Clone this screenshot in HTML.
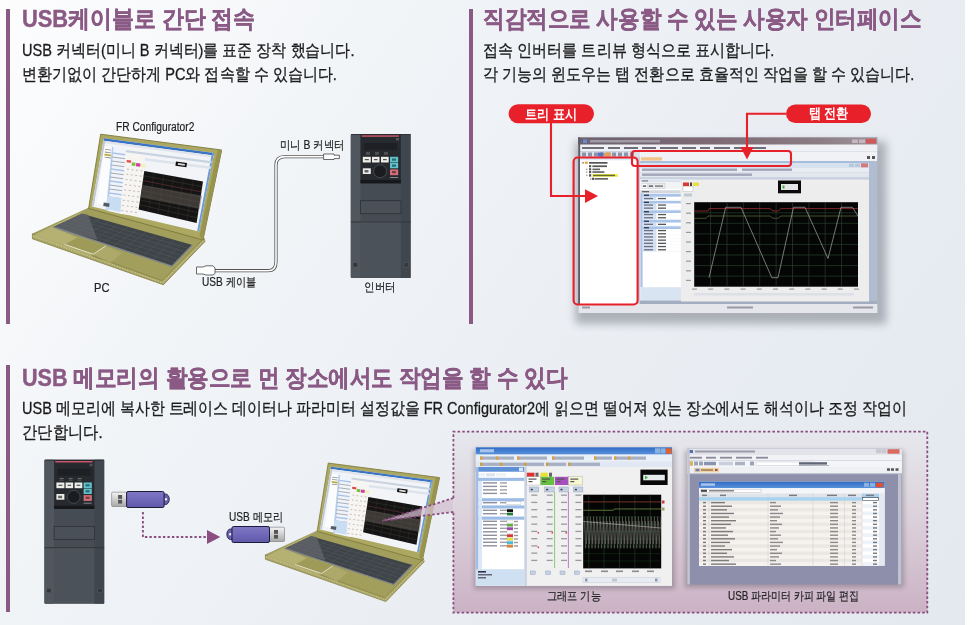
<!DOCTYPE html>
<html><head><meta charset="utf-8">
<style>
*{margin:0;padding:0;box-sizing:border-box}
html,body{width:976px;height:625px;overflow:hidden;background:#fff}
body{position:relative;font-family:"Liberation Sans",sans-serif;color:#222}
#bg{position:absolute;left:0;top:0;width:965px;height:625px;background:linear-gradient(125deg,#fdfdfe 0%,#f1f4f7 30%,#e9edf2 65%,#e4e9ef 100%)}
.bar{position:absolute;background:#8a5a85;width:4px}
.t{position:absolute;white-space:nowrap;line-height:1;transform-origin:0 0}
.title{font-size:24px;font-weight:bold;color:#8a5a85;-webkit-text-stroke:0.45px #8a5a85}
.body{font-size:16.5px;color:#1a1a1a;-webkit-text-stroke:0.3px #1a1a1a}
.lbl{font-size:12px;color:#222;-webkit-text-stroke:0.2px #222}
.pill{color:#fff;font-weight:bold;font-size:14px}
svg{position:absolute;left:0;top:0}
</style></head><body>
<div id="bg"></div>
<div class="bar" style="left:6px;top:9px;height:315px"></div>
<div class="bar" style="left:469px;top:9px;height:315px"></div>
<div class="bar" style="left:6px;top:365px;height:247px"></div>
<svg width="976" height="625" viewBox="0 0 976 625">
<defs>
<linearGradient id="boxg" x1="0" y1="0" x2="0" y2="1"><stop offset="0" stop-color="#e6e8ed"/><stop offset="0.45" stop-color="#dcd2dc"/><stop offset="1" stop-color="#cbb2c5"/></linearGradient>
<linearGradient id="tbar1" x1="0" y1="0" x2="1" y2="0"><stop offset="0" stop-color="#6c6270"/><stop offset="0.45" stop-color="#7e6a74"/><stop offset="0.8" stop-color="#8c7c84"/><stop offset="1" stop-color="#a0949c"/></linearGradient>
<linearGradient id="blueT" x1="0" y1="0" x2="0" y2="1"><stop offset="0" stop-color="#2f6cc4"/><stop offset="1" stop-color="#5a92dc"/></linearGradient>
<linearGradient id="usbm" x1="0" y1="0" x2="0" y2="1"><stop offset="0" stop-color="#f4f4f4"/><stop offset="1" stop-color="#a8a8a8"/></linearGradient>
<linearGradient id="usbp" x1="0" y1="0" x2="0" y2="1"><stop offset="0" stop-color="#8078c4"/><stop offset="0.5" stop-color="#7068b8"/><stop offset="1" stop-color="#6058a8"/></linearGradient>
<filter id="blur2" x="-20%" y="-20%" width="140%" height="140%"><feGaussianBlur stdDeviation="2.5"/></filter><filter id="blur4" x="-20%" y="-20%" width="140%" height="140%"><feGaussianBlur stdDeviation="4.5"/></filter>

</defs>
<g>
<polygon points="32.4,234 162,280.5 204,238 205,241.5 163.4,284.8 32.4,238.8" fill="#a9a566" stroke="#7a763a" stroke-width="0.7"/>
<polyline points="33,236.3 162.6,282.7 204.5,239.8" fill="none" stroke="#d4d09a" stroke-width="1.1" stroke-dasharray="1.2,1.5" opacity="0.9"/>
<polygon points="89.2,207.8 32.4,234 162,280.5 204,238" fill="#a29e5c" stroke="#86823f" stroke-width="0.6"/>
<polygon points="89.2,207.8 32.4,236 93,257 78,238 55,228" fill="#bdb97c" opacity="0.7"/>
<polygon points="93.3,254.2 105.6,246 122,253 110,263.5" fill="#b8b47a" opacity="0.5"/>
<polygon points="82,213.7 192.4,245 172,266.2 53.3,227" fill="#3f4449"/>
<polygon points="82,213.7 88,214.7 97.4,239.8 53.3,227" fill="#5c6065"/>
<line x1="77.2" y1="215.9" x2="189.0" y2="248.5" stroke="#555b60" stroke-width="0.5"/>
<line x1="72.4" y1="218.1" x2="185.6" y2="252.1" stroke="#555b60" stroke-width="0.5"/>
<line x1="67.7" y1="220.3" x2="182.2" y2="255.6" stroke="#555b60" stroke-width="0.5"/>
<line x1="62.9" y1="222.6" x2="178.8" y2="259.1" stroke="#555b60" stroke-width="0.5"/>
<line x1="58.1" y1="224.8" x2="175.4" y2="262.7" stroke="#555b60" stroke-width="0.5"/>
<line x1="91.2" y1="216.3" x2="63.2" y2="230.3" stroke="#555b60" stroke-width="0.45"/>
<line x1="100.4" y1="218.9" x2="73.1" y2="233.5" stroke="#555b60" stroke-width="0.45"/>
<line x1="109.6" y1="221.5" x2="83.0" y2="236.8" stroke="#555b60" stroke-width="0.45"/>
<line x1="118.8" y1="224.1" x2="92.9" y2="240.1" stroke="#555b60" stroke-width="0.45"/>
<line x1="128.0" y1="226.7" x2="102.8" y2="243.3" stroke="#555b60" stroke-width="0.45"/>
<line x1="137.2" y1="229.3" x2="112.7" y2="246.6" stroke="#555b60" stroke-width="0.45"/>
<line x1="146.4" y1="232.0" x2="122.5" y2="249.9" stroke="#555b60" stroke-width="0.45"/>
<line x1="155.6" y1="234.6" x2="132.4" y2="253.1" stroke="#555b60" stroke-width="0.45"/>
<line x1="164.8" y1="237.2" x2="142.3" y2="256.4" stroke="#555b60" stroke-width="0.45"/>
<line x1="174.0" y1="239.8" x2="152.2" y2="259.7" stroke="#555b60" stroke-width="0.45"/>
<line x1="183.2" y1="242.4" x2="162.1" y2="262.9" stroke="#555b60" stroke-width="0.45"/>
<polyline points="53.3,227 172,266.2 192.4,245" fill="none" stroke="#80868b" stroke-width="1.4"/>
<polygon points="76.9,237.8 105.6,246 93.3,254.2 64.6,244.4" fill="#9e9a57"/>
<polyline points="64.6,244.4 93.3,254.2 105.6,246" fill="none" stroke="#f0f0e6" stroke-width="0.8"/>
<polygon points="100.7,134.2 221.7,150 203,240 88.6,208.5" fill="#aca862" stroke="#7c783a" stroke-width="0.9"/>
<polygon points="217.5,150.5 221.7,150 203,240 199.5,236" fill="#989450"/>
<polygon points="103.8,138.3 214,153 199,231.5 91.8,206.4" fill="#f2f4f8"/>
<polygon points="103.8,138.3 214,153 213.6,155.4 103.5,140.7" fill="#3a74c4"/>
<polygon points="103.5,140.7 213.6,155.4 213.3,157.8 103.2,143" fill="#e2e6ec"/>
<polygon points="212,153 214,153 199,231.5 197.2,231" fill="#6a9ad8"/>
<polygon points="104.5,146 112,147 106,205 97,203.5" fill="#fbfcfd"/>
<polygon points="104.5,153.6 111.7,154.5 111.4,156.6 104.2,155.7" fill="#e8d040"/>
<polygon points="105.0,149.0 111.0,149.8 111.0,150.6 105.0,149.8" fill="#8a8a8a"/>
<polygon points="104.9,151.6 110.9,152.4 110.9,153.2 104.9,152.4" fill="#8a8a8a"/>
<polygon points="104.8,154.2 110.8,155.0 110.8,155.8 104.8,155.0" fill="#8a8a8a"/>
<polygon points="104.7,156.8 110.7,157.6 110.7,158.4 104.7,157.6" fill="#8a8a8a"/>
<polygon points="112,147 126,148.8 121,214 106,210.5" fill="#f0f4fa"/>
<polygon points="112,147 113.5,147.2 108,210.8 106,210.5" fill="#b6cce8"/>
<line x1="112.5" y1="153.0" x2="125.5" y2="154.7" stroke="#a9c4e8" stroke-width="1.6"/>
<line x1="112.1" y1="157.0" x2="125.1" y2="158.7" stroke="#9aa0ac" stroke-width="0.9"/>
<line x1="111.7" y1="161.0" x2="124.7" y2="162.7" stroke="#9aa0ac" stroke-width="0.9"/>
<line x1="111.4" y1="165.0" x2="124.4" y2="166.7" stroke="#9aa0ac" stroke-width="0.9"/>
<line x1="111.0" y1="169.0" x2="124.0" y2="170.7" stroke="#a9c4e8" stroke-width="1.6"/>
<line x1="110.6" y1="173.0" x2="123.6" y2="174.7" stroke="#9aa0ac" stroke-width="0.9"/>
<line x1="110.2" y1="177.0" x2="123.2" y2="178.7" stroke="#9aa0ac" stroke-width="0.9"/>
<line x1="109.8" y1="181.0" x2="122.8" y2="182.7" stroke="#a9c4e8" stroke-width="1.6"/>
<line x1="109.5" y1="185.0" x2="122.5" y2="186.7" stroke="#9aa0ac" stroke-width="0.9"/>
<line x1="109.1" y1="189.0" x2="122.1" y2="190.7" stroke="#9aa0ac" stroke-width="0.9"/>
<line x1="108.7" y1="193.0" x2="121.7" y2="194.7" stroke="#a9c4e8" stroke-width="1.6"/>
<line x1="108.3" y1="197.0" x2="121.3" y2="198.7" stroke="#9aa0ac" stroke-width="0.9"/>
<line x1="107.9" y1="201.0" x2="120.9" y2="202.7" stroke="#9aa0ac" stroke-width="0.9"/>
<line x1="107.6" y1="205.0" x2="120.6" y2="206.7" stroke="#9aa0ac" stroke-width="0.9"/>
<polygon points="107.5,196 121,198 120.5,212 106,209" fill="#c8dcf2"/>
<polygon points="103.8,202.5 109.6,203.5 109,207 103.2,206" fill="#555a66"/>
<polygon points="126,148.8 145,151.3 139.5,216 121,214" fill="#f6f5f2"/>
<polygon points="126.8,160 131.2,160.6 131,162.8 126.6,162.2" fill="#e24444"/>
<polygon points="131.9,162.2 135.5,162.7 135.2,165.9 131.6,165.4" fill="#78c040"/>
<polygon points="136.2,163 140.5,163.6 140.2,166.8 135.9,166.2" fill="#d040a0"/>
<polygon points="141.2,163.7 145.5,164.3 145.2,167.5 140.9,166.9" fill="#f0f0b0"/>
<polyline points="127.0,169.0 144.0,171.2" stroke="#b4a8a8" stroke-width="0.8" stroke-dasharray="2,2.5" fill="none"/>
<polyline points="126.3,174.2 143.3,176.4" stroke="#b4a8a8" stroke-width="0.8" stroke-dasharray="2,2.5" fill="none"/>
<polyline points="125.6,179.4 142.6,181.6" stroke="#b4a8a8" stroke-width="0.8" stroke-dasharray="2,2.5" fill="none"/>
<polyline points="124.9,184.6 141.9,186.8" stroke="#b4a8a8" stroke-width="0.8" stroke-dasharray="2,2.5" fill="none"/>
<polyline points="124.2,189.8 141.2,192.0" stroke="#b4a8a8" stroke-width="0.8" stroke-dasharray="2,2.5" fill="none"/>
<polyline points="123.5,195.0 140.5,197.2" stroke="#b4a8a8" stroke-width="0.8" stroke-dasharray="2,2.5" fill="none"/>
<polyline points="122.8,200.2 139.8,202.4" stroke="#b4a8a8" stroke-width="0.8" stroke-dasharray="2,2.5" fill="none"/>
<polyline points="122.1,205.4 139.1,207.6" stroke="#b4a8a8" stroke-width="0.8" stroke-dasharray="2,2.5" fill="none"/>
<polyline points="121.4,210.6 138.4,212.8" stroke="#b4a8a8" stroke-width="0.8" stroke-dasharray="2,2.5" fill="none"/>
<polygon points="126,150 212,161.3 211.7,163.5 125.8,152.2" fill="#c9d3df"/>
<polygon points="145,158 211,166.5 210.6,169 144.8,160.5" fill="#dde3ea"/>
<polygon points="176,161.5 187,163 186.4,167.2 175.4,165.7" fill="#111"/>
<polygon points="178,163 185,164 184.7,165.8 177.7,164.8" fill="#ddd"/>
<polygon points="144.3,171 203,181.5 196.6,223 138.6,209.5" fill="#141414"/>
<line x1="143.6" y1="175.8" x2="202.2" y2="186.7" stroke="#3c3a2c" stroke-width="0.55"/>
<line x1="142.9" y1="180.6" x2="201.4" y2="191.9" stroke="#7a3a3a" stroke-width="0.55"/>
<line x1="142.2" y1="185.4" x2="200.6" y2="197.1" stroke="#3c3a2c" stroke-width="0.55"/>
<line x1="141.4" y1="190.2" x2="199.8" y2="202.2" stroke="#3c3a2c" stroke-width="0.55"/>
<line x1="140.7" y1="195.1" x2="199.0" y2="207.4" stroke="#3c3a2c" stroke-width="0.55"/>
<line x1="140.0" y1="199.9" x2="198.2" y2="212.6" stroke="#3c3a2c" stroke-width="0.55"/>
<line x1="139.3" y1="204.7" x2="197.4" y2="217.8" stroke="#3c3a2c" stroke-width="0.55"/>
<line x1="154.1" y1="172.8" x2="148.3" y2="211.8" stroke="#3a2c30" stroke-width="0.5"/>
<line x1="163.9" y1="174.5" x2="157.9" y2="214.0" stroke="#3a2c30" stroke-width="0.5"/>
<line x1="173.7" y1="176.2" x2="167.6" y2="216.2" stroke="#3a2c30" stroke-width="0.5"/>
<line x1="183.4" y1="178.0" x2="177.3" y2="218.5" stroke="#3a2c30" stroke-width="0.5"/>
<line x1="193.2" y1="179.8" x2="186.9" y2="220.8" stroke="#3a2c30" stroke-width="0.5"/>
<polygon points="142.5,185 202,195.5 199.8,209 140.5,197.5" fill="#6c6660" opacity="0.45"/>
<polygon points="103.5,140.7 105.3,141 93.6,206.8 91.8,206.4" fill="#c0c8d4"/>
</g>
<g>
<rect x="350.80" y="134.00" width="59.80" height="144.00" fill="#464c53" rx="1.5"/>
<rect x="350.80" y="134.00" width="9.70" height="144.00" fill="#50565d" rx="1"/>
<rect x="400.80" y="134.00" width="9.80" height="144.00" fill="#40464d" />
<rect x="351.00" y="134.00" width="59.50" height="1.00" fill="#30343a" />
<rect x="360.50" y="134.30" width="40.30" height="49.00" fill="#26292d" />
<rect x="361.70" y="135.30" width="37.30" height="1.50" fill="#c8566a" />
<rect x="396.00" y="138.00" width="3.00" height="2.50" fill="#555" />
<rect x="364.00" y="143.00" width="33.00" height="7.00" fill="#1e2024" />
<rect x="366.00" y="152.50" width="4.00" height="1.00" fill="#777" />
<rect x="366.00" y="154.20" width="4.00" height="0.70" fill="#555" />
<rect x="375.00" y="152.50" width="4.00" height="1.00" fill="#777" />
<rect x="375.00" y="154.20" width="4.00" height="0.70" fill="#555" />
<rect x="384.00" y="152.50" width="4.00" height="1.00" fill="#777" />
<rect x="384.00" y="154.20" width="4.00" height="0.70" fill="#555" />
<rect x="362.80" y="156.80" width="8.00" height="5.70" fill="#ecece8" />
<rect x="364.80" y="159.00" width="4.00" height="1.20" fill="#555" />
<rect x="372.00" y="156.80" width="7.50" height="5.70" fill="#ecece8" />
<rect x="374.00" y="159.00" width="3.50" height="1.20" fill="#555" />
<rect x="381.00" y="156.80" width="7.70" height="5.70" fill="#ecece8" />
<rect x="383.00" y="159.00" width="3.70" height="1.20" fill="#555" />
<rect x="390.00" y="156.80" width="8.20" height="5.70" fill="#62c2cc" />
<rect x="392.00" y="158.50" width="4.00" height="2.20" fill="#2a6a70" />
<rect x="390.00" y="163.00" width="8.20" height="5.30" fill="#62c2cc" />
<rect x="392.00" y="164.50" width="4.00" height="2.20" fill="#2a6a70" />
<rect x="390.00" y="169.40" width="8.20" height="5.80" fill="#d0707a" />
<rect x="392.00" y="171.00" width="4.00" height="2.20" fill="#7a3a40" />
<rect x="362.80" y="168.30" width="8.00" height="5.70" fill="#ecece8" />
<rect x="364.50" y="170.00" width="4.00" height="2.50" fill="#666" />
<circle cx="380.1" cy="171.2" r="6.5" fill="#1a1c20" stroke="#4a4e54" stroke-width="0.9"/>
<rect x="360.50" y="180.00" width="40.30" height="3.30" fill="#16181b" />
<rect x="390.00" y="177.00" width="8.00" height="1.00" fill="#888" />
<rect x="360.50" y="200.70" width="40.50" height="13.00" fill="#4a5058" stroke="#2c3136" stroke-width="0.8"/>
<line x1="351" y1="222" x2="410.6" y2="222" stroke="#30353a" stroke-width="1"/>
<rect x="360.50" y="222.50" width="40.30" height="55.00" fill="#4c525a" />
<rect x="353.00" y="262.50" width="4.50" height="4.50" fill="#33373c" stroke="#666" stroke-width="0.4"/>
<rect x="404.00" y="262.50" width="4.50" height="4.50" fill="#33373c" stroke="#666" stroke-width="0.4"/>
</g>
<path d="M215,270.7 L268,270.7 Q276,270.7 276,262 L276,165 Q276,156.6 285,156.6 L324,156.6" fill="none" stroke="#555" stroke-width="3.2"/>
<path d="M215,270.7 L268,270.7 Q276,270.7 276,262 L276,165 Q276,156.6 285,156.6 L324,156.6" fill="none" stroke="#fff" stroke-width="1.6"/>
<path d="M196.5,267 L203,267 L206,265.8 L213,265.8 L215,268 L215,273.5 L213,275 L206,275 L203,274 L196.5,274 Z" fill="#fff" stroke="#444" stroke-width="0.8"/>
<path d="M323.6,154 L334,154 L334,155.2 L339.4,155.2 L339.4,158.6 L334,158.6 L334,159.5 L323.6,159.5 Z" fill="#fff" stroke="#444" stroke-width="0.8"/>
<rect x="575.2" y="141.4" width="311.0999999999999" height="182.6" fill="#2a3040" opacity="0.32" filter="url(#blur4)"/>
<rect x="578.20" y="137.40" width="299.10" height="175.60" fill="#b9c3d3" />
<rect x="578.20" y="137.40" width="299.10" height="7.60" fill="url(#tbar1)" />
<rect x="583.00" y="139.50" width="4.00" height="3.50" fill="#6a8ad0" />
<rect x="590.00" y="140.00" width="70.00" height="2.50" fill="#a09aa8" />
<rect x="866.00" y="138.80" width="10.00" height="4.80" fill="#d05a5a" />
<rect x="852.00" y="139.50" width="6.00" height="3.50" fill="#c4b8c0" />
<rect x="859.00" y="139.50" width="6.00" height="3.50" fill="#c4b8c0" />
<rect x="578.20" y="144.50" width="299.10" height="6.50" fill="#f0f1f4" />
<rect x="582.00" y="147.00" width="22.00" height="2.00" fill="#6e6e7c" />
<rect x="608.00" y="147.00" width="12.00" height="2.00" fill="#6e6e7c" />
<rect x="624.00" y="147.00" width="14.00" height="2.00" fill="#6e6e7c" />
<rect x="642.00" y="147.00" width="14.00" height="2.00" fill="#6e6e7c" />
<rect x="660.00" y="147.00" width="18.00" height="2.00" fill="#6e6e7c" />
<rect x="682.00" y="147.00" width="14.00" height="2.00" fill="#6e6e7c" />
<rect x="700.00" y="147.00" width="10.00" height="2.00" fill="#6e6e7c" />
<rect x="714.00" y="147.00" width="16.00" height="2.00" fill="#6e6e7c" />
<rect x="734.00" y="147.00" width="14.00" height="2.00" fill="#6e6e7c" />
<rect x="752.00" y="147.00" width="14.00" height="2.00" fill="#6e6e7c" />
<rect x="578.20" y="151.50" width="299.10" height="6.00" fill="#dde2ea" />
<rect x="582.00" y="152.50" width="4.00" height="4.00" fill="#8a94aa" />
<rect x="588.00" y="152.50" width="4.00" height="4.00" fill="#8a94aa" />
<rect x="594.00" y="152.50" width="4.00" height="4.00" fill="#8a94aa" />
<rect x="600.00" y="152.50" width="4.00" height="4.00" fill="#8a94aa" />
<rect x="606.00" y="152.50" width="4.00" height="4.00" fill="#8a94aa" />
<rect x="612.00" y="152.50" width="4.00" height="4.00" fill="#8a94aa" />
<rect x="618.00" y="152.50" width="4.00" height="4.00" fill="#8a94aa" />
<rect x="624.00" y="152.50" width="4.00" height="4.00" fill="#8a94aa" />
<rect x="630.00" y="152.50" width="4.00" height="4.00" fill="#8a94aa" />
<rect x="598.00" y="152.50" width="5.00" height="4.00" fill="#5a70c0" />
<rect x="604.00" y="152.50" width="7.00" height="4.00" fill="#e0a060" />
<rect x="578.20" y="137.40" width="2.00" height="175.60" fill="#5e5a66" />
<rect x="580.00" y="157.50" width="57.00" height="146.50" fill="#ffffff" />
<rect x="637.00" y="157.50" width="3.00" height="146.50" fill="#c6d0de" />
<rect x="580.00" y="157.50" width="57.00" height="2.80" fill="#dce8f4" />
<rect x="582.00" y="162.00" width="2.00" height="1.50" fill="#999" />
<rect x="584.80" y="161.60" width="3.00" height="2.20" fill="#e0a830" />
<rect x="589.00" y="162.00" width="18.50" height="1.70" fill="#555" />
<rect x="589.00" y="165.10" width="2.20" height="2.20" fill="#555" />
<rect x="592.40" y="165.40" width="14.60" height="1.70" fill="#555" />
<rect x="586.00" y="168.60" width="1.50" height="1.50" fill="#aaa" />
<rect x="589.00" y="168.20" width="2.20" height="2.20" fill="#555" />
<rect x="592.40" y="168.50" width="7.60" height="1.70" fill="#666" />
<rect x="586.00" y="171.30" width="1.50" height="1.50" fill="#aaa" />
<rect x="589.00" y="171.00" width="2.20" height="2.20" fill="#555" />
<rect x="592.40" y="171.20" width="12.00" height="1.70" fill="#666" />
<rect x="586.00" y="174.60" width="1.50" height="1.50" fill="#aaa" />
<rect x="589.00" y="174.20" width="2.20" height="2.40" fill="#555" />
<rect x="592.40" y="174.00" width="25.60" height="2.80" fill="#eeee50" />
<rect x="593.00" y="174.70" width="22.00" height="1.50" fill="#6a6a30" />
<rect x="590.00" y="178.20" width="1.50" height="1.50" fill="#aaa" />
<rect x="592.00" y="177.70" width="2.00" height="2.20" fill="#555" />
<rect x="594.50" y="178.00" width="13.50" height="1.70" fill="#666" />
<rect x="640.00" y="151.50" width="237.00" height="9.50" fill="#f1f2f5" />
<rect x="641.00" y="157.20" width="21.00" height="3.40" fill="#f0c48a" />
<rect x="640.00" y="161.00" width="237.00" height="2.00" fill="#a7bddc" />
<rect x="640.00" y="163.00" width="229.00" height="4.50" fill="#d6e2f0" />
<rect x="640.00" y="167.50" width="229.00" height="5.00" fill="#e9edf3" />
<rect x="640.00" y="172.50" width="229.00" height="5.00" fill="#e3e8f0" />
<rect x="642.00" y="168.50" width="95.00" height="2.40" fill="#a0a6b8" />
<rect x="742.00" y="168.50" width="50.00" height="2.40" fill="#a0a6b8" />
<rect x="642.00" y="173.50" width="110.00" height="2.40" fill="#a0a6b8" />
<rect x="849.00" y="163.50" width="5.00" height="3.50" fill="#b8c8dc" />
<rect x="855.00" y="163.50" width="5.00" height="3.50" fill="#b8c8dc" />
<rect x="861.00" y="163.30" width="7.00" height="4.00" fill="#d07a7a" />
<rect x="867.00" y="156.00" width="3.00" height="3.00" fill="#555" />
<rect x="872.00" y="156.00" width="3.00" height="3.00" fill="#555" />
<rect x="640.00" y="177.50" width="229.00" height="2.00" fill="#c8d2e0" />
<rect x="640.00" y="179.50" width="229.00" height="122.00" fill="#eeeeef" />
<rect x="640.40" y="179.50" width="40.40" height="108.00" fill="#ffffff" />
<rect x="640.40" y="179.50" width="40.40" height="3.00" fill="#dde3ec" />
<rect x="642.00" y="180.20" width="6.00" height="1.40" fill="#8a8a98" />
<rect x="640.40" y="182.80" width="40.40" height="6.00" fill="#f2f3f5" />
<rect x="642.00" y="183.70" width="5.00" height="4.50" fill="#fff" stroke="#aab" stroke-width="0.3"/>
<rect x="643.00" y="185.40" width="3.00" height="1.40" fill="#444" />
<rect x="648.00" y="183.70" width="17.00" height="4.50" fill="#e8eaee" stroke="#aab" stroke-width="0.3"/>
<rect x="649.00" y="185.40" width="4.00" height="1.40" fill="#555" />
<rect x="655.00" y="185.40" width="8.00" height="1.40" fill="#777" />
<rect x="640.40" y="190.20" width="40.40" height="3.00" fill="#d4d8de" />
<rect x="642.00" y="191.00" width="7.00" height="1.30" fill="#666" />
<rect x="640.40" y="193.20" width="2.20" height="94.00" fill="#a9c2e6" />
<rect x="642.60" y="193.80" width="38.20" height="2.90" fill="#a9c4e8" />
<rect x="644.00" y="194.60" width="5.00" height="1.30" fill="#334" />
<rect x="642.60" y="197.00" width="14.00" height="3.10" fill="#d2def0" />
<rect x="656.60" y="197.00" width="24.20" height="3.10" fill="#ffffff" />
<line x1="642.6" y1="200.1" x2="680.8" y2="200.1" stroke="#dde3ec" stroke-width="0.3"/>
<rect x="644.00" y="197.90" width="9.00" height="1.30" fill="#6a7282" />
<rect x="658.00" y="197.90" width="8.00" height="1.30" fill="#555" />
<rect x="642.60" y="200.90" width="38.20" height="2.90" fill="#a9c4e8" />
<rect x="644.00" y="201.70" width="5.00" height="1.30" fill="#334" />
<rect x="642.60" y="203.50" width="14.00" height="3.10" fill="#d2def0" />
<rect x="656.60" y="203.50" width="24.20" height="3.10" fill="#ffffff" />
<line x1="642.6" y1="206.6" x2="680.8" y2="206.6" stroke="#dde3ec" stroke-width="0.3"/>
<rect x="644.00" y="204.40" width="9.00" height="1.30" fill="#6a7282" />
<rect x="658.00" y="204.40" width="8.00" height="1.30" fill="#555" />
<rect x="642.60" y="206.60" width="14.00" height="3.10" fill="#d2def0" />
<rect x="656.60" y="206.60" width="24.20" height="3.10" fill="#ffffff" />
<line x1="642.6" y1="209.7" x2="680.8" y2="209.7" stroke="#dde3ec" stroke-width="0.3"/>
<rect x="644.00" y="207.50" width="9.00" height="1.30" fill="#6a7282" />
<rect x="658.00" y="207.50" width="8.00" height="1.30" fill="#555" />
<rect x="642.60" y="210.30" width="38.20" height="2.90" fill="#a9c4e8" />
<rect x="644.00" y="211.10" width="5.00" height="1.30" fill="#334" />
<rect x="642.60" y="213.00" width="14.00" height="3.10" fill="#d2def0" />
<rect x="656.60" y="213.00" width="24.20" height="3.10" fill="#ffffff" />
<line x1="642.6" y1="216.1" x2="680.8" y2="216.1" stroke="#dde3ec" stroke-width="0.3"/>
<rect x="644.00" y="213.90" width="9.00" height="1.30" fill="#6a7282" />
<rect x="658.00" y="213.90" width="8.00" height="1.30" fill="#555" />
<rect x="642.60" y="216.20" width="14.00" height="3.10" fill="#d2def0" />
<rect x="656.60" y="216.20" width="24.20" height="3.10" fill="#ffffff" />
<line x1="642.6" y1="219.3" x2="680.8" y2="219.3" stroke="#dde3ec" stroke-width="0.3"/>
<rect x="644.00" y="217.10" width="9.00" height="1.30" fill="#6a7282" />
<rect x="658.00" y="217.10" width="8.00" height="1.30" fill="#555" />
<rect x="642.60" y="219.80" width="38.20" height="2.90" fill="#a9c4e8" />
<rect x="644.00" y="220.60" width="5.00" height="1.30" fill="#334" />
<rect x="642.60" y="222.80" width="14.00" height="3.10" fill="#d2def0" />
<rect x="656.60" y="222.80" width="24.20" height="3.10" fill="#ffffff" />
<line x1="642.6" y1="225.9" x2="680.8" y2="225.9" stroke="#dde3ec" stroke-width="0.3"/>
<rect x="644.00" y="223.70" width="9.00" height="1.30" fill="#6a7282" />
<rect x="658.00" y="223.70" width="8.00" height="1.30" fill="#555" />
<rect x="642.60" y="226.30" width="38.20" height="2.90" fill="#a9c4e8" />
<rect x="644.00" y="227.10" width="5.00" height="1.30" fill="#334" />
<rect x="642.60" y="229.00" width="14.00" height="3.10" fill="#d2def0" />
<rect x="656.60" y="229.00" width="24.20" height="3.10" fill="#ffffff" />
<line x1="642.6" y1="232.1" x2="680.8" y2="232.1" stroke="#dde3ec" stroke-width="0.3"/>
<rect x="644.00" y="229.90" width="9.00" height="1.30" fill="#6a7282" />
<rect x="658.00" y="229.90" width="8.00" height="1.30" fill="#555" />
<rect x="642.60" y="232.20" width="14.00" height="3.10" fill="#d2def0" />
<rect x="656.60" y="232.20" width="24.20" height="3.10" fill="#ffffff" />
<line x1="642.6" y1="235.3" x2="680.8" y2="235.3" stroke="#dde3ec" stroke-width="0.3"/>
<rect x="644.00" y="233.10" width="9.00" height="1.30" fill="#6a7282" />
<rect x="658.00" y="233.10" width="8.00" height="1.30" fill="#555" />
<rect x="642.60" y="235.40" width="14.00" height="3.10" fill="#d2def0" />
<rect x="656.60" y="235.40" width="24.20" height="3.10" fill="#ffffff" />
<line x1="642.6" y1="238.5" x2="680.8" y2="238.5" stroke="#dde3ec" stroke-width="0.3"/>
<rect x="644.00" y="236.30" width="9.00" height="1.30" fill="#6a7282" />
<rect x="658.00" y="236.30" width="8.00" height="1.30" fill="#555" />
<rect x="642.60" y="238.60" width="14.00" height="3.10" fill="#d2def0" />
<rect x="656.60" y="238.60" width="24.20" height="3.10" fill="#ffffff" />
<line x1="642.6" y1="241.7" x2="680.8" y2="241.7" stroke="#dde3ec" stroke-width="0.3"/>
<rect x="644.00" y="239.50" width="9.00" height="1.30" fill="#6a7282" />
<rect x="658.00" y="239.50" width="8.00" height="1.30" fill="#555" />
<rect x="642.60" y="241.80" width="14.00" height="3.10" fill="#d2def0" />
<rect x="656.60" y="241.80" width="24.20" height="3.10" fill="#ffffff" />
<line x1="642.6" y1="244.9" x2="680.8" y2="244.9" stroke="#dde3ec" stroke-width="0.3"/>
<rect x="644.00" y="242.70" width="9.00" height="1.30" fill="#6a7282" />
<rect x="658.00" y="242.70" width="8.00" height="1.30" fill="#555" />
<rect x="642.60" y="245.00" width="14.00" height="3.10" fill="#d2def0" />
<rect x="656.60" y="245.00" width="24.20" height="3.10" fill="#ffffff" />
<line x1="642.6" y1="248.1" x2="680.8" y2="248.1" stroke="#dde3ec" stroke-width="0.3"/>
<rect x="644.00" y="245.90" width="9.00" height="1.30" fill="#6a7282" />
<rect x="658.00" y="245.90" width="8.00" height="1.30" fill="#555" />
<rect x="642.60" y="248.20" width="14.00" height="3.10" fill="#d2def0" />
<rect x="656.60" y="248.20" width="24.20" height="3.10" fill="#ffffff" />
<line x1="642.6" y1="251.3" x2="680.8" y2="251.3" stroke="#dde3ec" stroke-width="0.3"/>
<rect x="644.00" y="249.10" width="9.00" height="1.30" fill="#6a7282" />
<rect x="658.00" y="249.10" width="8.00" height="1.30" fill="#555" />
<rect x="640.40" y="287.30" width="40.40" height="13.00" fill="#d8e4f2" />
<rect x="640.00" y="300.50" width="237.00" height="4.00" fill="#a2adc2" />
<rect x="681.00" y="181.50" width="188.00" height="120.00" fill="#ededee" />
<rect x="683.00" y="182.50" width="6.00" height="3.50" fill="#d83a3a" />
<rect x="690.00" y="182.50" width="2.00" height="3.50" fill="#444" />
<rect x="693.00" y="182.50" width="6.00" height="3.50" fill="#e8e040" />
<rect x="683.00" y="186.50" width="10.00" height="5.00" fill="#fff" stroke="#999" stroke-width="0.3"/>
<rect x="684.00" y="193.50" width="8.00" height="3.00" fill="#c0c8d4" />
<rect x="686.00" y="203.00" width="5.00" height="1.20" fill="#9a9a9a" />
<rect x="686.00" y="212.60" width="5.00" height="1.20" fill="#9a9a9a" />
<rect x="686.00" y="222.20" width="5.00" height="1.20" fill="#9a9a9a" />
<rect x="686.00" y="231.80" width="5.00" height="1.20" fill="#9a9a9a" />
<rect x="686.00" y="241.40" width="5.00" height="1.20" fill="#9a9a9a" />
<rect x="686.00" y="251.00" width="5.00" height="1.20" fill="#9a9a9a" />
<rect x="686.00" y="260.60" width="5.00" height="1.20" fill="#9a9a9a" />
<rect x="686.00" y="270.20" width="5.00" height="1.20" fill="#9a9a9a" />
<rect x="686.00" y="279.80" width="5.00" height="1.20" fill="#9a9a9a" />
<rect x="694.20" y="202.20" width="163.80" height="84.50" fill="#050505" />
<line x1="694.2" y1="212.8" x2="858" y2="212.8" stroke="#2c4a32" stroke-width="0.6"/>
<line x1="694.2" y1="223.3" x2="858" y2="223.3" stroke="#2c4a32" stroke-width="0.6"/>
<line x1="694.2" y1="233.9" x2="858" y2="233.9" stroke="#2c4a32" stroke-width="0.6"/>
<line x1="694.2" y1="244.4" x2="858" y2="244.4" stroke="#2c4a32" stroke-width="0.6"/>
<line x1="694.2" y1="255.0" x2="858" y2="255.0" stroke="#2c4a32" stroke-width="0.6"/>
<line x1="694.2" y1="265.6" x2="858" y2="265.6" stroke="#2c4a32" stroke-width="0.6"/>
<line x1="694.2" y1="276.1" x2="858" y2="276.1" stroke="#2c4a32" stroke-width="0.6"/>
<line x1="710.6" y1="202.2" x2="710.6" y2="286.7" stroke="#2c4a32" stroke-width="0.6"/>
<line x1="727.0" y1="202.2" x2="727.0" y2="286.7" stroke="#2c4a32" stroke-width="0.6"/>
<line x1="743.3" y1="202.2" x2="743.3" y2="286.7" stroke="#2c4a32" stroke-width="0.6"/>
<line x1="759.7" y1="202.2" x2="759.7" y2="286.7" stroke="#2c4a32" stroke-width="0.6"/>
<line x1="776.1" y1="202.2" x2="776.1" y2="286.7" stroke="#2c4a32" stroke-width="0.6"/>
<line x1="792.5" y1="202.2" x2="792.5" y2="286.7" stroke="#2c4a32" stroke-width="0.6"/>
<line x1="808.9" y1="202.2" x2="808.9" y2="286.7" stroke="#2c4a32" stroke-width="0.6"/>
<line x1="825.2" y1="202.2" x2="825.2" y2="286.7" stroke="#2c4a32" stroke-width="0.6"/>
<line x1="841.6" y1="202.2" x2="841.6" y2="286.7" stroke="#2c4a32" stroke-width="0.6"/>
<polyline points="694,211 708,211 709,208.6 770,208.6 773,211 778,211 781,208.6 858,208.6" stroke="#9a2f2f" stroke-width="0.8" fill="none"/>
<polyline points="694,218.3 706,218.3 708,216 770,216 773,218.3 778,218.3 781,216 858,216" stroke="#55603a" stroke-width="0.8" fill="none"/>
<polyline points="709,277.7 725.7,207.3 741,207.3 771.8,277.7 778,277.7 793.5,207.3 805,207.3 828,258.5 841,207.3 852.4,207.3 858,216" stroke="#b4b4b4" stroke-width="0.65" fill="none"/>
<rect x="692.00" y="288.50" width="5.00" height="1.20" fill="#9a9a9a" />
<rect x="708.20" y="288.50" width="5.00" height="1.20" fill="#9a9a9a" />
<rect x="724.40" y="288.50" width="5.00" height="1.20" fill="#9a9a9a" />
<rect x="740.60" y="288.50" width="5.00" height="1.20" fill="#9a9a9a" />
<rect x="756.80" y="288.50" width="5.00" height="1.20" fill="#9a9a9a" />
<rect x="773.00" y="288.50" width="5.00" height="1.20" fill="#9a9a9a" />
<rect x="789.20" y="288.50" width="5.00" height="1.20" fill="#9a9a9a" />
<rect x="805.40" y="288.50" width="5.00" height="1.20" fill="#9a9a9a" />
<rect x="821.60" y="288.50" width="5.00" height="1.20" fill="#9a9a9a" />
<rect x="837.80" y="288.50" width="5.00" height="1.20" fill="#9a9a9a" />
<rect x="854.00" y="288.50" width="5.00" height="1.20" fill="#9a9a9a" />
<rect x="694.00" y="293.00" width="160.00" height="2.50" fill="#dcdfe6" />
<rect x="778.00" y="180.50" width="23.00" height="12.80" fill="#0a0a0a" />
<rect x="781.00" y="184.00" width="17.00" height="6.00" fill="#e4e6e8" />
<rect x="782.50" y="185.50" width="2.00" height="3.00" fill="#40b040" />
<rect x="869.00" y="161.00" width="8.00" height="140.00" fill="#b0bccf" />
<rect x="578.20" y="304.00" width="299.10" height="9.00" fill="#e4e6ec" />
<rect x="727.00" y="306.50" width="26.00" height="2.00" fill="#9a9aa6" />
<rect x="582.00" y="306.50" width="8.00" height="2.00" fill="#9a9aa6" />
<rect x="853.00" y="306.50" width="20.00" height="2.00" fill="#9a9aa6" />
<g fill="none" stroke="#e8202a" stroke-width="2.1">
<rect x="573.6" y="157.5" width="64" height="147" rx="4"/>
<rect x="632" y="151" width="159" height="15" rx="3"/>
<polyline points="551,114 551,196 587,196"/>
<polyline points="786,113.7 747,113.7 747,150"/>
</g>
<polygon points="585,189.3 598,196 585,203" fill="#e8202a"/>
<polygon points="740.5,147 753.5,147 747,159.5" fill="#e8202a"/>
<rect x="508.6" y="104.3" width="85.4" height="19" rx="9.5" fill="#e8202a"/>
<rect x="786" y="104.5" width="85" height="18.5" rx="9.3" fill="#e8202a"/>
<g transform="translate(-306.4,325.7)"><g>
<rect x="350.80" y="134.00" width="59.80" height="144.00" fill="#464c53" rx="1.5"/>
<rect x="350.80" y="134.00" width="9.70" height="144.00" fill="#50565d" rx="1"/>
<rect x="400.80" y="134.00" width="9.80" height="144.00" fill="#40464d" />
<rect x="351.00" y="134.00" width="59.50" height="1.00" fill="#30343a" />
<rect x="360.50" y="134.30" width="40.30" height="49.00" fill="#26292d" />
<rect x="361.70" y="135.30" width="37.30" height="1.50" fill="#c8566a" />
<rect x="396.00" y="138.00" width="3.00" height="2.50" fill="#555" />
<rect x="364.00" y="143.00" width="33.00" height="7.00" fill="#1e2024" />
<rect x="366.00" y="152.50" width="4.00" height="1.00" fill="#777" />
<rect x="366.00" y="154.20" width="4.00" height="0.70" fill="#555" />
<rect x="375.00" y="152.50" width="4.00" height="1.00" fill="#777" />
<rect x="375.00" y="154.20" width="4.00" height="0.70" fill="#555" />
<rect x="384.00" y="152.50" width="4.00" height="1.00" fill="#777" />
<rect x="384.00" y="154.20" width="4.00" height="0.70" fill="#555" />
<rect x="362.80" y="156.80" width="8.00" height="5.70" fill="#ecece8" />
<rect x="364.80" y="159.00" width="4.00" height="1.20" fill="#555" />
<rect x="372.00" y="156.80" width="7.50" height="5.70" fill="#ecece8" />
<rect x="374.00" y="159.00" width="3.50" height="1.20" fill="#555" />
<rect x="381.00" y="156.80" width="7.70" height="5.70" fill="#ecece8" />
<rect x="383.00" y="159.00" width="3.70" height="1.20" fill="#555" />
<rect x="390.00" y="156.80" width="8.20" height="5.70" fill="#62c2cc" />
<rect x="392.00" y="158.50" width="4.00" height="2.20" fill="#2a6a70" />
<rect x="390.00" y="163.00" width="8.20" height="5.30" fill="#62c2cc" />
<rect x="392.00" y="164.50" width="4.00" height="2.20" fill="#2a6a70" />
<rect x="390.00" y="169.40" width="8.20" height="5.80" fill="#d0707a" />
<rect x="392.00" y="171.00" width="4.00" height="2.20" fill="#7a3a40" />
<rect x="362.80" y="168.30" width="8.00" height="5.70" fill="#ecece8" />
<rect x="364.50" y="170.00" width="4.00" height="2.50" fill="#666" />
<circle cx="380.1" cy="171.2" r="6.5" fill="#1a1c20" stroke="#4a4e54" stroke-width="0.9"/>
<rect x="360.50" y="180.00" width="40.30" height="3.30" fill="#16181b" />
<rect x="390.00" y="177.00" width="8.00" height="1.00" fill="#888" />
<rect x="360.50" y="200.70" width="40.50" height="13.00" fill="#4a5058" stroke="#2c3136" stroke-width="0.8"/>
<line x1="351" y1="222" x2="410.6" y2="222" stroke="#30353a" stroke-width="1"/>
<rect x="360.50" y="222.50" width="40.30" height="55.00" fill="#4c525a" />
<rect x="353.00" y="262.50" width="4.50" height="4.50" fill="#33373c" stroke="#666" stroke-width="0.4"/>
<rect x="404.00" y="262.50" width="4.50" height="4.50" fill="#33373c" stroke="#666" stroke-width="0.4"/>
</g></g>
<g transform="translate(111.6,491)"><g>
<rect x="0" y="1.2" width="15.5" height="14.3" rx="1" fill="url(#usbm)" stroke="#777" stroke-width="0.6"/>
<rect x="6.50" y="4.00" width="4.00" height="3.80" fill="#555" />
<rect x="6.50" y="8.80" width="4.00" height="3.80" fill="#555" />
<path d="M52,3 h2 a3.5,5 0 0 1 0,10.5 h-2 z" fill="#6a60b0" stroke="#28224a" stroke-width="0.9"/>
<circle cx="54.3" cy="8.2" r="1.2" fill="#f0f0f4"/>
<rect x="15" y="0.5" width="37.5" height="16" rx="1.5" fill="url(#usbp)" stroke="#1e1a3a" stroke-width="1"/>
</g></g>
<g transform="translate(284.5,526) scale(-1,1)"><g>
<rect x="0" y="1.2" width="15.5" height="14.3" rx="1" fill="url(#usbm)" stroke="#777" stroke-width="0.6"/>
<rect x="6.50" y="4.00" width="4.00" height="3.80" fill="#555" />
<rect x="6.50" y="8.80" width="4.00" height="3.80" fill="#555" />
<path d="M52,3 h2 a3.5,5 0 0 1 0,10.5 h-2 z" fill="#6a60b0" stroke="#28224a" stroke-width="0.9"/>
<circle cx="54.3" cy="8.2" r="1.2" fill="#f0f0f4"/>
<rect x="15" y="0.5" width="37.5" height="16" rx="1.5" fill="url(#usbp)" stroke="#1e1a3a" stroke-width="1"/>
</g></g>
<polyline points="142.9,512 142.9,537 208,537" fill="none" stroke="#8a4f80" stroke-width="1.9" stroke-dasharray="2.4,2.1"/>
<polygon points="207,530 220.3,537 207,544" fill="#8a4f80"/>
<g transform="translate(235.6,339.6) scale(0.92)"><g>
<polygon points="32.4,234 162,280.5 204,238 205,241.5 163.4,284.8 32.4,238.8" fill="#a9a566" stroke="#7a763a" stroke-width="0.7"/>
<polyline points="33,236.3 162.6,282.7 204.5,239.8" fill="none" stroke="#d4d09a" stroke-width="1.1" stroke-dasharray="1.2,1.5" opacity="0.9"/>
<polygon points="89.2,207.8 32.4,234 162,280.5 204,238" fill="#a29e5c" stroke="#86823f" stroke-width="0.6"/>
<polygon points="89.2,207.8 32.4,236 93,257 78,238 55,228" fill="#bdb97c" opacity="0.7"/>
<polygon points="93.3,254.2 105.6,246 122,253 110,263.5" fill="#b8b47a" opacity="0.5"/>
<polygon points="82,213.7 192.4,245 172,266.2 53.3,227" fill="#3f4449"/>
<polygon points="82,213.7 88,214.7 97.4,239.8 53.3,227" fill="#5c6065"/>
<line x1="77.2" y1="215.9" x2="189.0" y2="248.5" stroke="#555b60" stroke-width="0.5"/>
<line x1="72.4" y1="218.1" x2="185.6" y2="252.1" stroke="#555b60" stroke-width="0.5"/>
<line x1="67.7" y1="220.3" x2="182.2" y2="255.6" stroke="#555b60" stroke-width="0.5"/>
<line x1="62.9" y1="222.6" x2="178.8" y2="259.1" stroke="#555b60" stroke-width="0.5"/>
<line x1="58.1" y1="224.8" x2="175.4" y2="262.7" stroke="#555b60" stroke-width="0.5"/>
<line x1="91.2" y1="216.3" x2="63.2" y2="230.3" stroke="#555b60" stroke-width="0.45"/>
<line x1="100.4" y1="218.9" x2="73.1" y2="233.5" stroke="#555b60" stroke-width="0.45"/>
<line x1="109.6" y1="221.5" x2="83.0" y2="236.8" stroke="#555b60" stroke-width="0.45"/>
<line x1="118.8" y1="224.1" x2="92.9" y2="240.1" stroke="#555b60" stroke-width="0.45"/>
<line x1="128.0" y1="226.7" x2="102.8" y2="243.3" stroke="#555b60" stroke-width="0.45"/>
<line x1="137.2" y1="229.3" x2="112.7" y2="246.6" stroke="#555b60" stroke-width="0.45"/>
<line x1="146.4" y1="232.0" x2="122.5" y2="249.9" stroke="#555b60" stroke-width="0.45"/>
<line x1="155.6" y1="234.6" x2="132.4" y2="253.1" stroke="#555b60" stroke-width="0.45"/>
<line x1="164.8" y1="237.2" x2="142.3" y2="256.4" stroke="#555b60" stroke-width="0.45"/>
<line x1="174.0" y1="239.8" x2="152.2" y2="259.7" stroke="#555b60" stroke-width="0.45"/>
<line x1="183.2" y1="242.4" x2="162.1" y2="262.9" stroke="#555b60" stroke-width="0.45"/>
<polyline points="53.3,227 172,266.2 192.4,245" fill="none" stroke="#80868b" stroke-width="1.4"/>
<polygon points="76.9,237.8 105.6,246 93.3,254.2 64.6,244.4" fill="#9e9a57"/>
<polyline points="64.6,244.4 93.3,254.2 105.6,246" fill="none" stroke="#f0f0e6" stroke-width="0.8"/>
<polygon points="100.7,134.2 221.7,150 203,240 88.6,208.5" fill="#aca862" stroke="#7c783a" stroke-width="0.9"/>
<polygon points="217.5,150.5 221.7,150 203,240 199.5,236" fill="#989450"/>
<polygon points="103.8,138.3 214,153 199,231.5 91.8,206.4" fill="#f2f4f8"/>
<polygon points="103.8,138.3 214,153 213.6,155.4 103.5,140.7" fill="#3a74c4"/>
<polygon points="103.5,140.7 213.6,155.4 213.3,157.8 103.2,143" fill="#e2e6ec"/>
<polygon points="212,153 214,153 199,231.5 197.2,231" fill="#6a9ad8"/>
<polygon points="104.5,146 112,147 106,205 97,203.5" fill="#fbfcfd"/>
<polygon points="104.5,153.6 111.7,154.5 111.4,156.6 104.2,155.7" fill="#e8d040"/>
<polygon points="105.0,149.0 111.0,149.8 111.0,150.6 105.0,149.8" fill="#8a8a8a"/>
<polygon points="104.9,151.6 110.9,152.4 110.9,153.2 104.9,152.4" fill="#8a8a8a"/>
<polygon points="104.8,154.2 110.8,155.0 110.8,155.8 104.8,155.0" fill="#8a8a8a"/>
<polygon points="104.7,156.8 110.7,157.6 110.7,158.4 104.7,157.6" fill="#8a8a8a"/>
<polygon points="112,147 126,148.8 121,214 106,210.5" fill="#f0f4fa"/>
<polygon points="112,147 113.5,147.2 108,210.8 106,210.5" fill="#b6cce8"/>
<line x1="112.5" y1="153.0" x2="125.5" y2="154.7" stroke="#a9c4e8" stroke-width="1.6"/>
<line x1="112.1" y1="157.0" x2="125.1" y2="158.7" stroke="#9aa0ac" stroke-width="0.9"/>
<line x1="111.7" y1="161.0" x2="124.7" y2="162.7" stroke="#9aa0ac" stroke-width="0.9"/>
<line x1="111.4" y1="165.0" x2="124.4" y2="166.7" stroke="#9aa0ac" stroke-width="0.9"/>
<line x1="111.0" y1="169.0" x2="124.0" y2="170.7" stroke="#a9c4e8" stroke-width="1.6"/>
<line x1="110.6" y1="173.0" x2="123.6" y2="174.7" stroke="#9aa0ac" stroke-width="0.9"/>
<line x1="110.2" y1="177.0" x2="123.2" y2="178.7" stroke="#9aa0ac" stroke-width="0.9"/>
<line x1="109.8" y1="181.0" x2="122.8" y2="182.7" stroke="#a9c4e8" stroke-width="1.6"/>
<line x1="109.5" y1="185.0" x2="122.5" y2="186.7" stroke="#9aa0ac" stroke-width="0.9"/>
<line x1="109.1" y1="189.0" x2="122.1" y2="190.7" stroke="#9aa0ac" stroke-width="0.9"/>
<line x1="108.7" y1="193.0" x2="121.7" y2="194.7" stroke="#a9c4e8" stroke-width="1.6"/>
<line x1="108.3" y1="197.0" x2="121.3" y2="198.7" stroke="#9aa0ac" stroke-width="0.9"/>
<line x1="107.9" y1="201.0" x2="120.9" y2="202.7" stroke="#9aa0ac" stroke-width="0.9"/>
<line x1="107.6" y1="205.0" x2="120.6" y2="206.7" stroke="#9aa0ac" stroke-width="0.9"/>
<polygon points="107.5,196 121,198 120.5,212 106,209" fill="#c8dcf2"/>
<polygon points="103.8,202.5 109.6,203.5 109,207 103.2,206" fill="#555a66"/>
<polygon points="126,148.8 145,151.3 139.5,216 121,214" fill="#f6f5f2"/>
<polygon points="126.8,160 131.2,160.6 131,162.8 126.6,162.2" fill="#e24444"/>
<polygon points="131.9,162.2 135.5,162.7 135.2,165.9 131.6,165.4" fill="#78c040"/>
<polygon points="136.2,163 140.5,163.6 140.2,166.8 135.9,166.2" fill="#d040a0"/>
<polygon points="141.2,163.7 145.5,164.3 145.2,167.5 140.9,166.9" fill="#f0f0b0"/>
<polyline points="127.0,169.0 144.0,171.2" stroke="#b4a8a8" stroke-width="0.8" stroke-dasharray="2,2.5" fill="none"/>
<polyline points="126.3,174.2 143.3,176.4" stroke="#b4a8a8" stroke-width="0.8" stroke-dasharray="2,2.5" fill="none"/>
<polyline points="125.6,179.4 142.6,181.6" stroke="#b4a8a8" stroke-width="0.8" stroke-dasharray="2,2.5" fill="none"/>
<polyline points="124.9,184.6 141.9,186.8" stroke="#b4a8a8" stroke-width="0.8" stroke-dasharray="2,2.5" fill="none"/>
<polyline points="124.2,189.8 141.2,192.0" stroke="#b4a8a8" stroke-width="0.8" stroke-dasharray="2,2.5" fill="none"/>
<polyline points="123.5,195.0 140.5,197.2" stroke="#b4a8a8" stroke-width="0.8" stroke-dasharray="2,2.5" fill="none"/>
<polyline points="122.8,200.2 139.8,202.4" stroke="#b4a8a8" stroke-width="0.8" stroke-dasharray="2,2.5" fill="none"/>
<polyline points="122.1,205.4 139.1,207.6" stroke="#b4a8a8" stroke-width="0.8" stroke-dasharray="2,2.5" fill="none"/>
<polyline points="121.4,210.6 138.4,212.8" stroke="#b4a8a8" stroke-width="0.8" stroke-dasharray="2,2.5" fill="none"/>
<polygon points="126,150 212,161.3 211.7,163.5 125.8,152.2" fill="#c9d3df"/>
<polygon points="145,158 211,166.5 210.6,169 144.8,160.5" fill="#dde3ea"/>
<polygon points="176,161.5 187,163 186.4,167.2 175.4,165.7" fill="#111"/>
<polygon points="178,163 185,164 184.7,165.8 177.7,164.8" fill="#ddd"/>
<polygon points="144.3,171 203,181.5 196.6,223 138.6,209.5" fill="#141414"/>
<line x1="143.6" y1="175.8" x2="202.2" y2="186.7" stroke="#3c3a2c" stroke-width="0.55"/>
<line x1="142.9" y1="180.6" x2="201.4" y2="191.9" stroke="#7a3a3a" stroke-width="0.55"/>
<line x1="142.2" y1="185.4" x2="200.6" y2="197.1" stroke="#3c3a2c" stroke-width="0.55"/>
<line x1="141.4" y1="190.2" x2="199.8" y2="202.2" stroke="#3c3a2c" stroke-width="0.55"/>
<line x1="140.7" y1="195.1" x2="199.0" y2="207.4" stroke="#3c3a2c" stroke-width="0.55"/>
<line x1="140.0" y1="199.9" x2="198.2" y2="212.6" stroke="#3c3a2c" stroke-width="0.55"/>
<line x1="139.3" y1="204.7" x2="197.4" y2="217.8" stroke="#3c3a2c" stroke-width="0.55"/>
<line x1="154.1" y1="172.8" x2="148.3" y2="211.8" stroke="#3a2c30" stroke-width="0.5"/>
<line x1="163.9" y1="174.5" x2="157.9" y2="214.0" stroke="#3a2c30" stroke-width="0.5"/>
<line x1="173.7" y1="176.2" x2="167.6" y2="216.2" stroke="#3a2c30" stroke-width="0.5"/>
<line x1="183.4" y1="178.0" x2="177.3" y2="218.5" stroke="#3a2c30" stroke-width="0.5"/>
<line x1="193.2" y1="179.8" x2="186.9" y2="220.8" stroke="#3a2c30" stroke-width="0.5"/>
<polygon points="142.5,185 202,195.5 199.8,209 140.5,197.5" fill="#6c6660" opacity="0.45"/>
<polygon points="103.5,140.7 105.3,141 93.6,206.8 91.8,206.4" fill="#c0c8d4"/>
</g></g>
<polygon points="382.3,520.8 453.4,498 453.4,512" fill="#d2bccd" opacity="0.75"/>
<rect x="453.40" y="431.60" width="474.00" height="181.00" fill="url(#boxg)" />
<g fill="none" stroke="#8a4f80" stroke-width="1.8" stroke-dasharray="2.6,2.1">
<path d="M453.4,498 V431.6 H927.3 V612.6 H453.4 V512"/>
<line x1="453.4" y1="498" x2="382.3" y2="520.8"/>
<line x1="453.4" y1="512" x2="382.3" y2="520.8"/>
</g>
<rect x="474" y="449" width="201" height="140" fill="#000" opacity="0.22" filter="url(#blur2)"/>
<rect x="475.80" y="447.30" width="196.20" height="138.40" fill="#eef0f3" />
<rect x="475.80" y="447.30" width="196.20" height="7.30" fill="url(#blueT)" />
<rect x="480.00" y="449.20" width="14.00" height="3.20" fill="#a8c4ec" />
<rect x="655.00" y="448.30" width="5.00" height="5.00" fill="#8ab0e0" />
<rect x="660.50" y="448.30" width="5.00" height="5.00" fill="#8ab0e0" />
<rect x="666.00" y="448.30" width="5.50" height="5.50" fill="#e06030" />
<rect x="475.80" y="454.60" width="196.20" height="6.70" fill="#eaf0f7" />
<rect x="475.80" y="461.30" width="196.20" height="5.80" fill="#e1e8f3" />
<rect x="480.00" y="456.50" width="16.00" height="3.20" fill="#a6b0c2" />
<rect x="480.00" y="456.50" width="2.50" height="3.20" fill="#e0a040" />
<rect x="496.00" y="456.50" width="18.00" height="3.20" fill="#a6b0c2" />
<rect x="496.00" y="456.50" width="2.50" height="3.20" fill="#e0a040" />
<rect x="517.00" y="456.50" width="30.00" height="3.20" fill="#a6b0c2" />
<rect x="517.00" y="456.50" width="2.50" height="3.20" fill="#e0a040" />
<rect x="552.00" y="456.50" width="32.00" height="3.20" fill="#a6b0c2" />
<rect x="552.00" y="456.50" width="2.50" height="3.20" fill="#e0a040" />
<rect x="594.00" y="456.50" width="18.00" height="3.20" fill="#a6b0c2" />
<rect x="594.00" y="456.50" width="2.50" height="3.20" fill="#e0a040" />
<rect x="614.00" y="456.50" width="14.00" height="3.20" fill="#a6b0c2" />
<rect x="614.00" y="456.50" width="2.50" height="3.20" fill="#e0a040" />
<rect x="628.00" y="456.50" width="18.00" height="3.20" fill="#a6b0c2" />
<rect x="628.00" y="456.50" width="2.50" height="3.20" fill="#e0a040" />
<rect x="480.00" y="462.70" width="20.00" height="3.20" fill="#a6b0c2" />
<rect x="480.00" y="462.70" width="2.50" height="3.20" fill="#d0a040" />
<rect x="500.00" y="462.70" width="24.00" height="3.20" fill="#a6b0c2" />
<rect x="500.00" y="462.70" width="2.50" height="3.20" fill="#d0a040" />
<rect x="524.00" y="462.70" width="20.00" height="3.20" fill="#a6b0c2" />
<rect x="524.00" y="462.70" width="2.50" height="3.20" fill="#d0a040" />
<rect x="546.00" y="462.70" width="20.00" height="3.20" fill="#a6b0c2" />
<rect x="546.00" y="462.70" width="2.50" height="3.20" fill="#d0a040" />
<rect x="568.00" y="462.70" width="32.00" height="3.20" fill="#a6b0c2" />
<rect x="568.00" y="462.70" width="2.50" height="3.20" fill="#d0a040" />
<rect x="475.80" y="467.00" width="48.60" height="118.70" fill="#ffffff" />
<rect x="475.80" y="467.00" width="48.60" height="4.70" fill="#5f8fd4" />
<rect x="519.00" y="467.60" width="4.00" height="3.50" fill="#dde6f4" />
<rect x="478.00" y="473.20" width="7.00" height="3.30" fill="#eef1f6" />
<rect x="486.00" y="473.20" width="9.00" height="3.30" fill="#dde4ee" />
<rect x="496.00" y="473.20" width="10.00" height="3.30" fill="#eef1f6" />
<rect x="476.00" y="477.80" width="48.40" height="3.10" fill="#9cbbe6" />
<rect x="476.00" y="498.20" width="48.40" height="3.10" fill="#9cbbe6" />
<rect x="476.00" y="505.40" width="48.40" height="3.10" fill="#9cbbe6" />
<rect x="476.00" y="516.60" width="48.40" height="3.10" fill="#9cbbe6" />
<rect x="476.00" y="467.00" width="2.50" height="118.70" fill="#9fbde6" />
<rect x="478.50" y="481.00" width="3.50" height="88.00" fill="#dce8f6" />
<rect x="483.00" y="482.20" width="14.00" height="1.40" fill="#8e909e" />
<rect x="500.00" y="482.20" width="7.00" height="1.40" fill="#a0a0a8" />
<rect x="483.00" y="485.70" width="14.00" height="1.40" fill="#8e909e" />
<rect x="500.00" y="485.70" width="7.00" height="1.40" fill="#a0a0a8" />
<rect x="483.00" y="489.20" width="14.00" height="1.40" fill="#8e909e" />
<rect x="500.00" y="489.20" width="7.00" height="1.40" fill="#a0a0a8" />
<rect x="483.00" y="492.70" width="14.00" height="1.40" fill="#8e909e" />
<rect x="500.00" y="492.70" width="7.00" height="1.40" fill="#a0a0a8" />
<rect x="483.00" y="502.00" width="14.00" height="1.40" fill="#8e909e" />
<rect x="500.00" y="502.00" width="7.00" height="1.40" fill="#a0a0a8" />
<rect x="483.00" y="509.60" width="14.00" height="1.40" fill="#8e909e" />
<rect x="500.00" y="509.60" width="7.00" height="1.40" fill="#a0a0a8" />
<rect x="483.00" y="513.00" width="14.00" height="1.40" fill="#8e909e" />
<rect x="500.00" y="513.00" width="7.00" height="1.40" fill="#a0a0a8" />
<rect x="483.00" y="520.60" width="14.00" height="1.40" fill="#8e909e" />
<rect x="500.00" y="520.60" width="7.00" height="1.40" fill="#a0a0a8" />
<rect x="483.00" y="524.10" width="14.00" height="1.40" fill="#8e909e" />
<rect x="500.00" y="524.10" width="7.00" height="1.40" fill="#a0a0a8" />
<rect x="483.00" y="527.60" width="14.00" height="1.40" fill="#8e909e" />
<rect x="500.00" y="527.60" width="7.00" height="1.40" fill="#a0a0a8" />
<rect x="483.00" y="531.10" width="14.00" height="1.40" fill="#8e909e" />
<rect x="500.00" y="531.10" width="7.00" height="1.40" fill="#a0a0a8" />
<rect x="483.00" y="534.60" width="14.00" height="1.40" fill="#8e909e" />
<rect x="500.00" y="534.60" width="7.00" height="1.40" fill="#a0a0a8" />
<rect x="483.00" y="538.10" width="14.00" height="1.40" fill="#8e909e" />
<rect x="500.00" y="538.10" width="7.00" height="1.40" fill="#a0a0a8" />
<rect x="483.00" y="541.60" width="14.00" height="1.40" fill="#8e909e" />
<rect x="500.00" y="541.60" width="7.00" height="1.40" fill="#a0a0a8" />
<rect x="483.00" y="545.10" width="14.00" height="1.40" fill="#8e909e" />
<rect x="500.00" y="545.10" width="7.00" height="1.40" fill="#a0a0a8" />
<rect x="506.00" y="501.80" width="15.00" height="2.70" fill="#fff" stroke="#999" stroke-width="0.3"/>
<rect x="507.00" y="509.20" width="6.00" height="2.80" fill="#111" />
<rect x="507.00" y="512.60" width="6.00" height="2.80" fill="#2a7a3a" />
<rect x="507.00" y="520.30" width="6.00" height="2.70" fill="#ffffff" stroke="#999" stroke-width="0.2"/>
<rect x="514.00" y="520.80" width="4.00" height="1.40" fill="#999" />
<rect x="507.00" y="523.80" width="6.00" height="2.70" fill="#60b040" stroke="#999" stroke-width="0.2"/>
<rect x="514.00" y="524.30" width="4.00" height="1.40" fill="#999" />
<rect x="507.00" y="527.30" width="6.00" height="2.70" fill="#a040b0" stroke="#999" stroke-width="0.2"/>
<rect x="514.00" y="527.80" width="4.00" height="1.40" fill="#999" />
<rect x="507.00" y="530.80" width="6.00" height="2.70" fill="#ffffff" stroke="#999" stroke-width="0.2"/>
<rect x="514.00" y="531.30" width="4.00" height="1.40" fill="#999" />
<rect x="507.00" y="534.30" width="6.00" height="2.70" fill="#e03030" stroke="#999" stroke-width="0.2"/>
<rect x="514.00" y="534.80" width="4.00" height="1.40" fill="#999" />
<rect x="507.00" y="537.80" width="6.00" height="2.70" fill="#e8e030" stroke="#999" stroke-width="0.2"/>
<rect x="514.00" y="538.30" width="4.00" height="1.40" fill="#999" />
<rect x="507.00" y="541.30" width="6.00" height="2.70" fill="#40c0e0" stroke="#999" stroke-width="0.2"/>
<rect x="514.00" y="541.80" width="4.00" height="1.40" fill="#999" />
<rect x="507.00" y="544.80" width="6.00" height="2.70" fill="#e08030" stroke="#999" stroke-width="0.2"/>
<rect x="514.00" y="545.30" width="4.00" height="1.40" fill="#999" />
<rect x="476.00" y="569.20" width="48.40" height="16.50" fill="#cfe0f2" />
<rect x="478.00" y="571.00" width="8.00" height="1.60" fill="#334" />
<rect x="478.00" y="574.00" width="14.00" height="1.50" fill="#667" />
<rect x="478.00" y="577.00" width="8.00" height="1.50" fill="#667" />
<rect x="524.40" y="467.00" width="2.50" height="118.70" fill="#c8d2e0" />
<rect x="526.90" y="467.00" width="145.10" height="118.70" fill="#f0f0f1" />
<rect x="526.90" y="472.70" width="7.60" height="4.10" fill="#e03030" />
<rect x="535.50" y="472.70" width="3.00" height="4.10" fill="#666" />
<rect x="540.60" y="472.70" width="7.20" height="4.10" fill="#e8e030" />
<rect x="549.00" y="472.70" width="3.00" height="4.10" fill="#666" />
<rect x="526.90" y="476.80" width="13.30" height="8.20" fill="#ffffff" stroke="#888" stroke-width="0.3"/>
<rect x="540.60" y="476.80" width="13.70" height="8.20" fill="#68c040" />
<rect x="555.00" y="476.80" width="13.30" height="8.20" fill="#a850c0" />
<rect x="568.70" y="476.80" width="13.50" height="8.20" fill="#f8f8d0" stroke="#888" stroke-width="0.3"/>
<rect x="528.50" y="478.50" width="8.00" height="1.20" fill="#555" />
<rect x="528.50" y="481.00" width="4.00" height="1.20" fill="#555" />
<rect x="542.20" y="478.50" width="8.00" height="1.20" fill="#555" />
<rect x="542.20" y="481.00" width="4.00" height="1.20" fill="#555" />
<rect x="556.60" y="478.50" width="8.00" height="1.20" fill="#555" />
<rect x="556.60" y="481.00" width="4.00" height="1.20" fill="#555" />
<rect x="570.30" y="478.50" width="8.00" height="1.20" fill="#555" />
<rect x="570.30" y="481.00" width="4.00" height="1.20" fill="#555" />
<rect x="529.30" y="487.00" width="9.50" height="5.00" fill="#c6d2e4" stroke="#7e90aa" stroke-width="0.35"/>
<rect x="530.80" y="488.80" width="2.00" height="1.50" fill="#334" />
<rect x="531.30" y="494.50" width="6.00" height="1.30" fill="#9a9aa0" />
<rect x="531.30" y="501.75" width="6.00" height="1.30" fill="#9a9aa0" />
<rect x="531.30" y="509.00" width="6.00" height="1.30" fill="#9a9aa0" />
<rect x="531.30" y="516.25" width="6.00" height="1.30" fill="#9a9aa0" />
<rect x="531.30" y="523.50" width="6.00" height="1.30" fill="#9a9aa0" />
<rect x="531.30" y="530.75" width="6.00" height="1.30" fill="#9a9aa0" />
<rect x="531.30" y="538.00" width="6.00" height="1.30" fill="#9a9aa0" />
<rect x="531.30" y="545.25" width="6.00" height="1.30" fill="#9a9aa0" />
<rect x="531.30" y="552.50" width="6.00" height="1.30" fill="#9a9aa0" />
<rect x="531.30" y="559.75" width="6.00" height="1.30" fill="#9a9aa0" />
<rect x="530.30" y="571.00" width="5.00" height="3.50" fill="#c6d2e4" stroke="#7e90aa" stroke-width="0.35"/>
<rect x="544.70" y="487.00" width="9.50" height="5.00" fill="#c6d2e4" stroke="#7e90aa" stroke-width="0.35"/>
<rect x="546.20" y="488.80" width="2.00" height="1.50" fill="#334" />
<rect x="546.70" y="494.50" width="6.00" height="1.30" fill="#9a9aa0" />
<rect x="546.70" y="501.75" width="6.00" height="1.30" fill="#9a9aa0" />
<rect x="546.70" y="509.00" width="6.00" height="1.30" fill="#9a9aa0" />
<rect x="546.70" y="516.25" width="6.00" height="1.30" fill="#9a9aa0" />
<rect x="546.70" y="523.50" width="6.00" height="1.30" fill="#9a9aa0" />
<rect x="546.70" y="530.75" width="6.00" height="1.30" fill="#9a9aa0" />
<rect x="546.70" y="538.00" width="6.00" height="1.30" fill="#9a9aa0" />
<rect x="546.70" y="545.25" width="6.00" height="1.30" fill="#9a9aa0" />
<rect x="546.70" y="552.50" width="6.00" height="1.30" fill="#9a9aa0" />
<rect x="546.70" y="559.75" width="6.00" height="1.30" fill="#9a9aa0" />
<rect x="545.70" y="571.00" width="5.00" height="3.50" fill="#c6d2e4" stroke="#7e90aa" stroke-width="0.35"/>
<rect x="559.00" y="487.00" width="9.50" height="5.00" fill="#c6d2e4" stroke="#7e90aa" stroke-width="0.35"/>
<rect x="560.50" y="488.80" width="2.00" height="1.50" fill="#334" />
<rect x="561.00" y="494.50" width="6.00" height="1.30" fill="#9a9aa0" />
<rect x="561.00" y="501.75" width="6.00" height="1.30" fill="#9a9aa0" />
<rect x="561.00" y="509.00" width="6.00" height="1.30" fill="#9a9aa0" />
<rect x="561.00" y="516.25" width="6.00" height="1.30" fill="#9a9aa0" />
<rect x="561.00" y="523.50" width="6.00" height="1.30" fill="#9a9aa0" />
<rect x="561.00" y="530.75" width="6.00" height="1.30" fill="#9a9aa0" />
<rect x="561.00" y="538.00" width="6.00" height="1.30" fill="#9a9aa0" />
<rect x="561.00" y="545.25" width="6.00" height="1.30" fill="#9a9aa0" />
<rect x="561.00" y="552.50" width="6.00" height="1.30" fill="#9a9aa0" />
<rect x="561.00" y="559.75" width="6.00" height="1.30" fill="#9a9aa0" />
<rect x="560.00" y="571.00" width="5.00" height="3.50" fill="#c6d2e4" stroke="#7e90aa" stroke-width="0.35"/>
<rect x="573.40" y="487.00" width="9.50" height="5.00" fill="#c6d2e4" stroke="#7e90aa" stroke-width="0.35"/>
<rect x="574.90" y="488.80" width="2.00" height="1.50" fill="#334" />
<rect x="575.40" y="494.50" width="6.00" height="1.30" fill="#9a9aa0" />
<rect x="575.40" y="501.75" width="6.00" height="1.30" fill="#9a9aa0" />
<rect x="575.40" y="509.00" width="6.00" height="1.30" fill="#9a9aa0" />
<rect x="575.40" y="516.25" width="6.00" height="1.30" fill="#9a9aa0" />
<rect x="575.40" y="523.50" width="6.00" height="1.30" fill="#9a9aa0" />
<rect x="575.40" y="530.75" width="6.00" height="1.30" fill="#9a9aa0" />
<rect x="575.40" y="538.00" width="6.00" height="1.30" fill="#9a9aa0" />
<rect x="575.40" y="545.25" width="6.00" height="1.30" fill="#9a9aa0" />
<rect x="575.40" y="552.50" width="6.00" height="1.30" fill="#9a9aa0" />
<rect x="575.40" y="559.75" width="6.00" height="1.30" fill="#9a9aa0" />
<rect x="574.40" y="571.00" width="5.00" height="3.50" fill="#c6d2e4" stroke="#7e90aa" stroke-width="0.35"/>
<line x1="554.6" y1="492" x2="554.6" y2="568" stroke="#70c050" stroke-width="0.8"/>
<line x1="568.4" y1="492" x2="568.4" y2="568" stroke="#b060c0" stroke-width="0.8"/>
<rect x="537.50" y="532.00" width="1.60" height="1.60" fill="#e05050" />
<rect x="551.50" y="532.00" width="1.60" height="1.60" fill="#e05050" />
<rect x="565.50" y="532.00" width="1.60" height="1.60" fill="#e05050" />
<rect x="537.50" y="546.50" width="1.60" height="1.60" fill="#e05050" />
<rect x="583.20" y="494.70" width="78.00" height="73.70" fill="#050505" />
<line x1="583.2" y1="502.1" x2="661.2" y2="502.1" stroke="#17381f" stroke-width="0.5"/>
<line x1="583.2" y1="509.4" x2="661.2" y2="509.4" stroke="#17381f" stroke-width="0.5"/>
<line x1="583.2" y1="516.8" x2="661.2" y2="516.8" stroke="#17381f" stroke-width="0.5"/>
<line x1="583.2" y1="524.2" x2="661.2" y2="524.2" stroke="#17381f" stroke-width="0.5"/>
<line x1="583.2" y1="531.5" x2="661.2" y2="531.5" stroke="#17381f" stroke-width="0.5"/>
<line x1="583.2" y1="538.9" x2="661.2" y2="538.9" stroke="#17381f" stroke-width="0.5"/>
<line x1="583.2" y1="546.3" x2="661.2" y2="546.3" stroke="#17381f" stroke-width="0.5"/>
<line x1="583.2" y1="553.7" x2="661.2" y2="553.7" stroke="#17381f" stroke-width="0.5"/>
<line x1="583.2" y1="561.0" x2="661.2" y2="561.0" stroke="#17381f" stroke-width="0.5"/>
<line x1="588.8" y1="494.7" x2="588.8" y2="568.4" stroke="#1f4a28" stroke-width="0.55"/>
<line x1="604" y1="494.7" x2="604" y2="568.4" stroke="#1f4a28" stroke-width="0.55"/>
<line x1="619.5" y1="494.7" x2="619.5" y2="568.4" stroke="#1f4a28" stroke-width="0.55"/>
<line x1="634.9" y1="494.7" x2="634.9" y2="568.4" stroke="#1f4a28" stroke-width="0.55"/>
<line x1="650.2" y1="494.7" x2="650.2" y2="568.4" stroke="#1f4a28" stroke-width="0.55"/>
<line x1="583.2" y1="501.9" x2="661.2" y2="501.9" stroke="#a03030" stroke-width="0.7"/>
<polyline points="583.2,510.4 613.3,510.4 614.3,508.9 661.2,508.9" stroke="#788a40" stroke-width="0.7" fill="none"/>
<polyline points="584.0,516.6 585.6,548.4 587.2,516.6 588.8,548.4 590.4,516.6 592.0,548.4 593.6,516.6 595.2,548.4 596.8,516.6 598.4,548.4 600.0,516.6 601.6,548.4 603.2,516.6 604.8,548.4 606.4,516.6 608.0,548.4 609.6,516.6 611.2,548.4 612.8,516.6 614.4,548.4 616.0,516.6 617.6,548.4 619.2,516.6 620.8,548.4 622.4,516.6 624.0,548.4 625.6,516.6 627.2,548.4 628.8,516.6 630.4,548.4 632.0,516.6 633.6,548.4 635.2,516.6 636.8,548.4 638.4,516.6 640.0,548.4 641.6,516.6 643.2,548.4 644.8,516.6 646.4,548.4 648.0,516.6 649.6,548.4 651.2,516.6 652.8,548.4 654.4,516.6 656.0,548.4 657.6,516.6 659.2,548.4 660.8,516.6" stroke="#7f8a72" stroke-width="0.45" fill="none" opacity="0.9"/>
<polyline points="584.8,521.0 586.4,544.0 588.0,521.0 589.6,544.0 591.2,521.0 592.8,544.0 594.4,521.0 596.0,544.0 597.6,521.0 599.2,544.0 600.8,521.0 602.4,544.0 604.0,521.0 605.6,544.0 607.2,521.0 608.8,544.0 610.4,521.0 612.0,544.0 613.6,521.0 615.2,544.0 616.8,521.0 618.4,544.0 620.0,521.0 621.6,544.0 623.2,521.0 624.8,544.0 626.4,521.0 628.0,544.0 629.6,521.0 631.2,544.0 632.8,521.0 634.4,544.0 636.0,521.0 637.6,544.0 639.2,521.0 640.8,544.0 642.4,521.0 644.0,544.0 645.6,521.0 647.2,544.0 648.8,521.0 650.4,544.0 652.0,521.0 653.6,544.0 655.2,521.0 656.8,544.0 658.4,521.0 660.0,544.0" stroke="#a89aa6" stroke-width="0.35" fill="none" opacity="0.8"/>
<line x1="583.2" y1="521.5" x2="661.2" y2="528" stroke="#cfcfc0" stroke-width="0.5"/>
<rect x="585.00" y="570.50" width="7.00" height="1.60" fill="#8a8a90" />
<rect x="601.00" y="570.50" width="7.00" height="1.60" fill="#8a8a90" />
<rect x="616.00" y="570.50" width="7.00" height="1.60" fill="#8a8a90" />
<rect x="632.00" y="570.50" width="7.00" height="1.60" fill="#8a8a90" />
<rect x="647.00" y="570.50" width="7.00" height="1.60" fill="#8a8a90" />
<rect x="583.00" y="577.80" width="77.00" height="4.60" fill="#e8ecf2" stroke="#b4bccc" stroke-width="0.35"/>
<rect x="585.00" y="578.50" width="2.50" height="3.00" fill="#8898b0" />
<rect x="655.00" y="578.50" width="2.50" height="3.00" fill="#8898b0" />
<rect x="612.00" y="578.50" width="5.00" height="3.00" fill="#c0c8d6" />
<rect x="640.40" y="469.60" width="27.20" height="15.40" fill="#080808" />
<rect x="643.20" y="474.80" width="21.60" height="5.50" fill="#e6eaec" />
<polygon points="645,475.5 648,477.5 645,479.5" fill="#40b040"/>
<rect x="662.00" y="500.50" width="2.50" height="3.00" fill="#c04040" />
<rect x="662.00" y="507.50" width="2.50" height="3.00" fill="#a0a060" />
<rect x="685" y="450.5" width="219" height="137" fill="#000" opacity="0.22" filter="url(#blur2)"/>
<rect x="687.30" y="448.50" width="214.70" height="136.00" fill="#8d8fab" />
<rect x="687.30" y="448.50" width="214.70" height="6.50" fill="#e2e4ea" />
<rect x="689.00" y="450.00" width="4.00" height="3.00" fill="#5070b0" />
<rect x="695.00" y="450.50" width="60.00" height="2.00" fill="#9a9aa8" />
<rect x="876.00" y="449.20" width="5.00" height="4.00" fill="#c8c8d0" />
<rect x="881.50" y="449.20" width="5.00" height="4.00" fill="#c8c8d0" />
<rect x="887.50" y="449.20" width="12.00" height="4.50" fill="#d86a60" />
<rect x="687.30" y="455.00" width="214.70" height="5.50" fill="#f1f2f6" />
<rect x="690.00" y="456.80" width="12.00" height="1.80" fill="#8a8a98" />
<rect x="706.00" y="456.80" width="10.00" height="1.80" fill="#8a8a98" />
<rect x="720.00" y="456.80" width="12.00" height="1.80" fill="#8a8a98" />
<rect x="736.00" y="456.80" width="16.00" height="1.80" fill="#8a8a98" />
<rect x="756.00" y="456.80" width="12.00" height="1.80" fill="#8a8a98" />
<rect x="687.30" y="460.50" width="214.70" height="6.50" fill="#f4f5f8" />
<rect x="689.00" y="461.50" width="4.00" height="4.00" fill="#9aa4b8" />
<rect x="694.00" y="461.50" width="4.00" height="4.00" fill="#9aa4b8" />
<rect x="699.00" y="461.50" width="4.00" height="4.00" fill="#9aa4b8" />
<rect x="689.00" y="461.50" width="4.00" height="4.00" fill="#e0b060" />
<rect x="704.00" y="461.80" width="12.00" height="3.50" fill="#8a94b0" />
<rect x="719.00" y="461.80" width="14.00" height="3.50" fill="#c8cedc" />
<rect x="735.00" y="461.80" width="10.00" height="3.50" fill="#aab2c4" />
<rect x="750.00" y="461.50" width="4.00" height="4.00" fill="#9aa4b8" />
<rect x="756.00" y="462.00" width="58.00" height="3.30" fill="#fff" stroke="#aab" stroke-width="0.3"/>
<rect x="799.00" y="462.20" width="28.00" height="2.40" fill="#606878" />
<rect x="799.00" y="465.00" width="30.00" height="0.60" fill="#8890a0" />
<rect x="687.30" y="467.00" width="214.70" height="6.00" fill="#eef0f4" />
<rect x="694.00" y="467.80" width="25.00" height="4.50" fill="#f2d2a0" />
<rect x="695.50" y="468.80" width="4.00" height="2.50" fill="#6a80c0" />
<rect x="701.00" y="469.20" width="12.00" height="1.60" fill="#a08060" />
<rect x="715.00" y="469.00" width="2.50" height="2.00" fill="#a05050" />
<rect x="887.00" y="468.30" width="3.00" height="2.50" fill="#555" />
<rect x="891.00" y="468.30" width="3.00" height="2.50" fill="#555" />
<rect x="895.50" y="468.30" width="3.00" height="2.50" fill="#555" />
<rect x="687.30" y="473.00" width="214.70" height="1.20" fill="#c0c4d4" />
<rect x="687.30" y="448.50" width="2.50" height="136.00" fill="#c4c6d2" />
<rect x="898.00" y="474.00" width="3.50" height="110.50" fill="#c0c2d0" />
<rect x="699.00" y="481.70" width="185.70" height="84.00" fill="#f4f1ee" />
<rect x="699.00" y="481.70" width="185.70" height="6.50" fill="url(#blueT)" />
<rect x="701.00" y="483.30" width="14.00" height="2.50" fill="#a8c4ec" />
<rect x="864.00" y="482.80" width="5.00" height="4.00" fill="#8ab0e0" />
<rect x="870.00" y="482.80" width="5.00" height="4.00" fill="#8ab0e0" />
<rect x="876.00" y="482.80" width="7.00" height="4.50" fill="#e05030" />
<rect x="699.00" y="488.20" width="185.70" height="5.00" fill="#f4f5f8" />
<rect x="701.00" y="489.20" width="60.00" height="3.30" fill="#fff" stroke="#aab" stroke-width="0.4"/>
<rect x="701.00" y="489.80" width="6.00" height="2.00" fill="#444" />
<rect x="709.00" y="490.00" width="25.00" height="1.50" fill="#888" />
<rect x="699.00" y="493.70" width="185.70" height="3.50" fill="#dfe3ea" />
<rect x="862.00" y="493.70" width="17.00" height="3.50" fill="#a8d0f0" />
<rect x="702.00" y="494.60" width="5.00" height="1.50" fill="#7a7a80" />
<rect x="720.00" y="494.60" width="6.00" height="1.50" fill="#7a7a80" />
<rect x="789.00" y="494.60" width="8.00" height="1.50" fill="#7a7a80" />
<rect x="827.00" y="494.60" width="10.00" height="1.50" fill="#7a7a80" />
<rect x="848.00" y="494.60" width="8.00" height="1.50" fill="#7a7a80" />
<rect x="866.00" y="494.60" width="8.00" height="1.50" fill="#7a7a80" />
<rect x="699.00" y="497.20" width="180.00" height="3.60" fill="#a7d2f0" />
<rect x="862.50" y="497.60" width="16.00" height="2.80" fill="#ffffff" stroke="#222" stroke-width="0.55"/>
<rect x="699.00" y="500.80" width="163.00" height="3.62" fill="#ebe7e3" />
<rect x="862.00" y="500.80" width="17.00" height="3.62" fill="#ffffff" />
<rect x="703.00" y="501.90" width="3.00" height="1.40" fill="#777" />
<rect x="711.00" y="501.90" width="14.00" height="1.40" fill="#7c7c7c" />
<rect x="770.00" y="501.90" width="6.00" height="1.40" fill="#8a8a8a" />
<rect x="830.00" y="501.90" width="8.00" height="1.40" fill="#8a8a8a" />
<rect x="852.00" y="501.90" width="4.00" height="1.40" fill="#8a8a8a" />
<rect x="873.00" y="501.90" width="4.00" height="1.40" fill="#777" />
<rect x="699.00" y="504.42" width="163.00" height="3.62" fill="#f5f2ef" />
<rect x="862.00" y="504.42" width="17.00" height="3.62" fill="#eef3fa" />
<rect x="703.00" y="505.52" width="3.00" height="1.40" fill="#777" />
<rect x="711.00" y="505.52" width="21.00" height="1.40" fill="#7c7c7c" />
<rect x="770.00" y="505.52" width="11.00" height="1.40" fill="#8a8a8a" />
<rect x="830.00" y="505.52" width="8.00" height="1.40" fill="#8a8a8a" />
<rect x="852.00" y="505.52" width="4.00" height="1.40" fill="#8a8a8a" />
<rect x="873.00" y="505.52" width="4.00" height="1.40" fill="#777" />
<rect x="699.00" y="508.04" width="163.00" height="3.62" fill="#ebe7e3" />
<rect x="862.00" y="508.04" width="17.00" height="3.62" fill="#ffffff" />
<rect x="703.00" y="509.14" width="3.00" height="1.40" fill="#777" />
<rect x="711.00" y="509.14" width="16.00" height="1.40" fill="#7c7c7c" />
<rect x="770.00" y="509.14" width="8.00" height="1.40" fill="#8a8a8a" />
<rect x="830.00" y="509.14" width="8.00" height="1.40" fill="#8a8a8a" />
<rect x="852.00" y="509.14" width="4.00" height="1.40" fill="#8a8a8a" />
<rect x="873.00" y="509.14" width="4.00" height="1.40" fill="#777" />
<rect x="699.00" y="511.66" width="163.00" height="3.62" fill="#f5f2ef" />
<rect x="862.00" y="511.66" width="17.00" height="3.62" fill="#eef3fa" />
<rect x="703.00" y="512.76" width="3.00" height="1.40" fill="#777" />
<rect x="711.00" y="512.76" width="23.00" height="1.40" fill="#7c7c7c" />
<rect x="770.00" y="512.76" width="13.00" height="1.40" fill="#8a8a8a" />
<rect x="830.00" y="512.76" width="8.00" height="1.40" fill="#8a8a8a" />
<rect x="852.00" y="512.76" width="4.00" height="1.40" fill="#8a8a8a" />
<rect x="873.00" y="512.76" width="4.00" height="1.40" fill="#777" />
<rect x="699.00" y="515.28" width="163.00" height="3.62" fill="#ebe7e3" />
<rect x="862.00" y="515.28" width="17.00" height="3.62" fill="#ffffff" />
<rect x="703.00" y="516.38" width="3.00" height="1.40" fill="#777" />
<rect x="711.00" y="516.38" width="18.00" height="1.40" fill="#7c7c7c" />
<rect x="770.00" y="516.38" width="10.00" height="1.40" fill="#8a8a8a" />
<rect x="830.00" y="516.38" width="8.00" height="1.40" fill="#8a8a8a" />
<rect x="852.00" y="516.38" width="4.00" height="1.40" fill="#8a8a8a" />
<rect x="873.00" y="516.38" width="4.00" height="1.40" fill="#777" />
<rect x="699.00" y="518.90" width="163.00" height="3.62" fill="#f5f2ef" />
<rect x="862.00" y="518.90" width="17.00" height="3.62" fill="#eef3fa" />
<rect x="703.00" y="520.00" width="3.00" height="1.40" fill="#777" />
<rect x="711.00" y="520.00" width="25.00" height="1.40" fill="#7c7c7c" />
<rect x="770.00" y="520.00" width="7.00" height="1.40" fill="#8a8a8a" />
<rect x="830.00" y="520.00" width="8.00" height="1.40" fill="#8a8a8a" />
<rect x="852.00" y="520.00" width="4.00" height="1.40" fill="#8a8a8a" />
<rect x="873.00" y="520.00" width="4.00" height="1.40" fill="#777" />
<rect x="699.00" y="522.52" width="163.00" height="3.62" fill="#ebe7e3" />
<rect x="862.00" y="522.52" width="17.00" height="3.62" fill="#ffffff" />
<rect x="703.00" y="523.62" width="3.00" height="1.40" fill="#777" />
<rect x="711.00" y="523.62" width="20.00" height="1.40" fill="#7c7c7c" />
<rect x="770.00" y="523.62" width="12.00" height="1.40" fill="#8a8a8a" />
<rect x="830.00" y="523.62" width="8.00" height="1.40" fill="#8a8a8a" />
<rect x="852.00" y="523.62" width="4.00" height="1.40" fill="#8a8a8a" />
<rect x="873.00" y="523.62" width="4.00" height="1.40" fill="#777" />
<rect x="699.00" y="526.14" width="163.00" height="3.62" fill="#f5f2ef" />
<rect x="862.00" y="526.14" width="17.00" height="3.62" fill="#eef3fa" />
<rect x="703.00" y="527.24" width="3.00" height="1.40" fill="#777" />
<rect x="711.00" y="527.24" width="15.00" height="1.40" fill="#7c7c7c" />
<rect x="770.00" y="527.24" width="9.00" height="1.40" fill="#8a8a8a" />
<rect x="830.00" y="527.24" width="8.00" height="1.40" fill="#8a8a8a" />
<rect x="852.00" y="527.24" width="4.00" height="1.40" fill="#8a8a8a" />
<rect x="873.00" y="527.24" width="4.00" height="1.40" fill="#777" />
<rect x="699.00" y="529.76" width="163.00" height="3.62" fill="#ebe7e3" />
<rect x="862.00" y="529.76" width="17.00" height="3.62" fill="#ffffff" />
<rect x="703.00" y="530.86" width="3.00" height="1.40" fill="#777" />
<rect x="711.00" y="530.86" width="22.00" height="1.40" fill="#7c7c7c" />
<rect x="770.00" y="530.86" width="6.00" height="1.40" fill="#8a8a8a" />
<rect x="830.00" y="530.86" width="8.00" height="1.40" fill="#8a8a8a" />
<rect x="852.00" y="530.86" width="4.00" height="1.40" fill="#8a8a8a" />
<rect x="873.00" y="530.86" width="4.00" height="1.40" fill="#777" />
<rect x="699.00" y="533.38" width="163.00" height="3.62" fill="#f5f2ef" />
<rect x="862.00" y="533.38" width="17.00" height="3.62" fill="#eef3fa" />
<rect x="703.00" y="534.48" width="3.00" height="1.40" fill="#777" />
<rect x="711.00" y="534.48" width="17.00" height="1.40" fill="#7c7c7c" />
<rect x="770.00" y="534.48" width="11.00" height="1.40" fill="#8a8a8a" />
<rect x="830.00" y="534.48" width="8.00" height="1.40" fill="#8a8a8a" />
<rect x="852.00" y="534.48" width="4.00" height="1.40" fill="#8a8a8a" />
<rect x="873.00" y="534.48" width="4.00" height="1.40" fill="#777" />
<rect x="699.00" y="537.00" width="163.00" height="3.62" fill="#ebe7e3" />
<rect x="862.00" y="537.00" width="17.00" height="3.62" fill="#ffffff" />
<rect x="703.00" y="538.10" width="3.00" height="1.40" fill="#777" />
<rect x="711.00" y="538.10" width="24.00" height="1.40" fill="#7c7c7c" />
<rect x="770.00" y="538.10" width="8.00" height="1.40" fill="#8a8a8a" />
<rect x="830.00" y="538.10" width="8.00" height="1.40" fill="#8a8a8a" />
<rect x="852.00" y="538.10" width="4.00" height="1.40" fill="#8a8a8a" />
<rect x="873.00" y="538.10" width="4.00" height="1.40" fill="#777" />
<rect x="699.00" y="540.62" width="163.00" height="3.62" fill="#f5f2ef" />
<rect x="862.00" y="540.62" width="17.00" height="3.62" fill="#eef3fa" />
<rect x="703.00" y="541.72" width="3.00" height="1.40" fill="#777" />
<rect x="711.00" y="541.72" width="19.00" height="1.40" fill="#7c7c7c" />
<rect x="770.00" y="541.72" width="13.00" height="1.40" fill="#8a8a8a" />
<rect x="830.00" y="541.72" width="8.00" height="1.40" fill="#8a8a8a" />
<rect x="852.00" y="541.72" width="4.00" height="1.40" fill="#8a8a8a" />
<rect x="873.00" y="541.72" width="4.00" height="1.40" fill="#777" />
<rect x="699.00" y="544.24" width="163.00" height="3.62" fill="#ebe7e3" />
<rect x="862.00" y="544.24" width="17.00" height="3.62" fill="#ffffff" />
<rect x="703.00" y="545.34" width="3.00" height="1.40" fill="#777" />
<rect x="711.00" y="545.34" width="14.00" height="1.40" fill="#7c7c7c" />
<rect x="770.00" y="545.34" width="10.00" height="1.40" fill="#8a8a8a" />
<rect x="830.00" y="545.34" width="8.00" height="1.40" fill="#8a8a8a" />
<rect x="852.00" y="545.34" width="4.00" height="1.40" fill="#8a8a8a" />
<rect x="873.00" y="545.34" width="4.00" height="1.40" fill="#777" />
<rect x="699.00" y="547.86" width="163.00" height="3.62" fill="#f5f2ef" />
<rect x="862.00" y="547.86" width="17.00" height="3.62" fill="#eef3fa" />
<rect x="703.00" y="548.96" width="3.00" height="1.40" fill="#777" />
<rect x="711.00" y="548.96" width="21.00" height="1.40" fill="#7c7c7c" />
<rect x="770.00" y="548.96" width="7.00" height="1.40" fill="#8a8a8a" />
<rect x="830.00" y="548.96" width="8.00" height="1.40" fill="#8a8a8a" />
<rect x="852.00" y="548.96" width="4.00" height="1.40" fill="#8a8a8a" />
<rect x="873.00" y="548.96" width="4.00" height="1.40" fill="#777" />
<rect x="699.00" y="551.48" width="163.00" height="3.62" fill="#ebe7e3" />
<rect x="862.00" y="551.48" width="17.00" height="3.62" fill="#ffffff" />
<rect x="703.00" y="552.58" width="3.00" height="1.40" fill="#777" />
<rect x="711.00" y="552.58" width="16.00" height="1.40" fill="#7c7c7c" />
<rect x="770.00" y="552.58" width="12.00" height="1.40" fill="#8a8a8a" />
<rect x="830.00" y="552.58" width="8.00" height="1.40" fill="#8a8a8a" />
<rect x="852.00" y="552.58" width="4.00" height="1.40" fill="#8a8a8a" />
<rect x="873.00" y="552.58" width="4.00" height="1.40" fill="#777" />
<rect x="699.00" y="555.10" width="163.00" height="3.62" fill="#f5f2ef" />
<rect x="862.00" y="555.10" width="17.00" height="3.62" fill="#eef3fa" />
<rect x="703.00" y="556.20" width="3.00" height="1.40" fill="#777" />
<rect x="711.00" y="556.20" width="23.00" height="1.40" fill="#7c7c7c" />
<rect x="770.00" y="556.20" width="9.00" height="1.40" fill="#8a8a8a" />
<rect x="830.00" y="556.20" width="8.00" height="1.40" fill="#8a8a8a" />
<rect x="852.00" y="556.20" width="4.00" height="1.40" fill="#8a8a8a" />
<rect x="873.00" y="556.20" width="4.00" height="1.40" fill="#777" />
<rect x="699.00" y="558.72" width="163.00" height="3.62" fill="#ebe7e3" />
<rect x="862.00" y="558.72" width="17.00" height="3.62" fill="#ffffff" />
<rect x="703.00" y="559.82" width="3.00" height="1.40" fill="#777" />
<rect x="711.00" y="559.82" width="18.00" height="1.40" fill="#7c7c7c" />
<rect x="770.00" y="559.82" width="6.00" height="1.40" fill="#8a8a8a" />
<rect x="830.00" y="559.82" width="8.00" height="1.40" fill="#8a8a8a" />
<rect x="852.00" y="559.82" width="4.00" height="1.40" fill="#8a8a8a" />
<rect x="873.00" y="559.82" width="4.00" height="1.40" fill="#777" />
<rect x="699.00" y="562.34" width="163.00" height="3.62" fill="#f5f2ef" />
<rect x="862.00" y="562.34" width="17.00" height="3.62" fill="#eef3fa" />
<rect x="703.00" y="563.44" width="3.00" height="1.40" fill="#777" />
<rect x="711.00" y="563.44" width="25.00" height="1.40" fill="#7c7c7c" />
<rect x="770.00" y="563.44" width="11.00" height="1.40" fill="#8a8a8a" />
<rect x="830.00" y="563.44" width="8.00" height="1.40" fill="#8a8a8a" />
<rect x="852.00" y="563.44" width="4.00" height="1.40" fill="#8a8a8a" />
<rect x="873.00" y="563.44" width="4.00" height="1.40" fill="#777" />
<rect x="879.00" y="493.70" width="5.70" height="72.00" fill="#e4e8f0" />
<line x1="709" y1="493.7" x2="709" y2="566" stroke="#c8c4c0" stroke-width="0.4"/>
<line x1="768" y1="493.7" x2="768" y2="566" stroke="#c8c4c0" stroke-width="0.4"/>
<line x1="813" y1="493.7" x2="813" y2="566" stroke="#c8c4c0" stroke-width="0.4"/>
<line x1="844.5" y1="493.7" x2="844.5" y2="566" stroke="#c8c4c0" stroke-width="0.4"/>
<line x1="862" y1="493.7" x2="862" y2="566" stroke="#c8c4c0" stroke-width="0.4"/>
</svg>
<div class="t title" style="left:22px;top:7px;transform:scaleX(0.911)">USB케이블로 간단 접속</div>
<div class="t body" style="left:22px;top:42px;transform:scaleX(0.882)">USB 커넥터(미니 B 커넥터)를 표준 장착 했습니다.</div>
<div class="t body" style="left:22px;top:66px;transform:scaleX(0.883)">변환기없이 간단하게 PC와 접속할 수 있습니다.</div>
<div class="t title" style="left:483px;top:7px;transform:scaleX(0.896)">직감적으로 사용할 수 있는 사용자 인터페이스</div>
<div class="t body" style="left:483px;top:42px;transform:scaleX(0.886)">접속 인버터를 트리뷰 형식으로 표시합니다.</div>
<div class="t body" style="left:483px;top:66px;transform:scaleX(0.884)">각 기능의 윈도우는 탭 전환으로 효율적인 작업을 할 수 있습니다.</div>
<div class="t title" style="left:22px;top:365.5px;transform:scaleX(0.897)">USB 메모리의 활용으로 먼 장소에서도 작업을 할 수 있다</div>
<div class="t body" style="left:22px;top:400px;transform:scaleX(0.879)">USB 메모리에 복사한 트레이스 데이터나 파라미터 설정값을 FR Configurator2에 읽으면 떨어져 있는 장소에서도 해석이나 조정 작업이</div>
<div class="t body" style="left:22px;top:424px;transform:scaleX(0.899)">간단합니다.</div>
<div class="t lbl" style="left:115.5px;top:120.5px;transform:scaleX(0.851)">FR Configurator2</div>
<div class="t lbl" style="left:280px;top:139px;transform:scaleX(0.862)">미니 B 커넥터</div>
<div class="t lbl" style="left:94px;top:282px;transform:scaleX(0.930)">PC</div>
<div class="t lbl" style="left:202px;top:276px;transform:scaleX(0.843)">USB 케이블</div>
<div class="t lbl" style="left:364px;top:281px;transform:scaleX(0.880)">인버터</div>
<div class="t lbl" style="left:229px;top:511px;transform:scaleX(0.843)">USB 메모리</div>
<div class="t lbl" style="left:547px;top:590px;transform:scaleX(0.850)">그래프 기능</div>
<div class="t lbl" style="left:728px;top:590px;transform:scaleX(0.828)">USB 파라미터 카피 파일 편집</div>
<div class="t pill" style="left:525px;top:107px;transform:scaleX(0.867)">트리 표시</div>
<div class="t pill" style="left:809px;top:106px;transform:scaleX(0.862)">탭 전환</div>
</body></html>
